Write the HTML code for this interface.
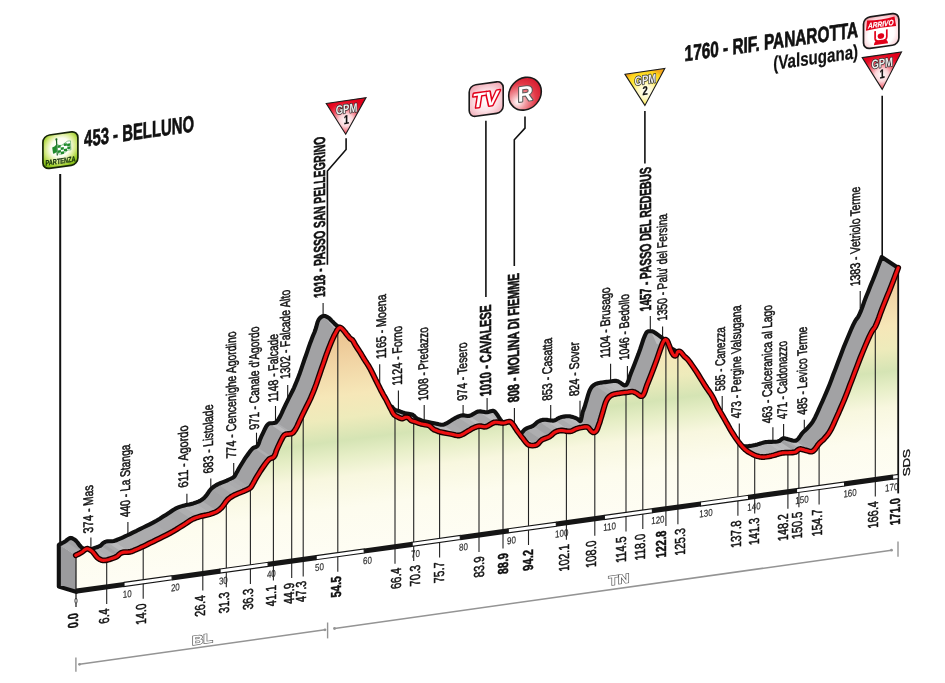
<!DOCTYPE html>
<html lang="it"><head><meta charset="utf-8"><title>Belluno - Rif. Panarotta</title>
<style>html,body{margin:0;padding:0;background:#fff}body{width:945px;height:683px;overflow:hidden}svg{display:block;will-change:transform}text{font-family:"Liberation Sans",sans-serif}</style></head><body>
<svg width="945" height="683" viewBox="0 0 945 683">
<defs>
<linearGradient id="gfill" gradientUnits="userSpaceOnUse" x1="0" y1="371" x2="0" y2="597" gradientTransform="matrix(1,-0.127,0,1,0,0)">
<stop offset="0" stop-color="#eac18d"/>
<stop offset="0.15" stop-color="#f1d4a4"/>
<stop offset="0.3" stop-color="#f6e7b8"/>
<stop offset="0.4" stop-color="#eeebbb"/>
<stop offset="0.5" stop-color="#d5e4b4"/>
<stop offset="0.57" stop-color="#e6eec6"/>
<stop offset="0.66" stop-color="#f8f7df"/>
<stop offset="0.8" stop-color="#fdfcee"/>
<stop offset="1" stop-color="#fefdf4"/>
</linearGradient>
<radialGradient id="ggreen" cx="0.5" cy="0.42" r="0.66"><stop offset="0" stop-color="#ffffff"/><stop offset="0.42" stop-color="#fbfdf0"/><stop offset="0.66" stop-color="#d3e982"/><stop offset="0.86" stop-color="#9ccd27"/><stop offset="1" stop-color="#7ab512"/></radialGradient>
<radialGradient id="gpink" cx="0.5" cy="0.55" r="0.7"><stop offset="0" stop-color="#ffffff"/><stop offset="0.45" stop-color="#fce4e8"/><stop offset="1" stop-color="#ef9aa8"/></radialGradient>
<radialGradient id="gredc" cx="0.28" cy="0.72" r="0.85"><stop offset="0" stop-color="#ffffff"/><stop offset="0.3" stop-color="#f29aa1"/><stop offset="0.65" stop-color="#e23a48"/><stop offset="1" stop-color="#d4152a"/></radialGradient>
<radialGradient id="gtri_r" cx="0.5" cy="0.62" r="0.6"><stop offset="0" stop-color="#ffffff"/><stop offset="0.28" stop-color="#fbd5d9"/><stop offset="0.6" stop-color="#ef4a5b"/><stop offset="0.82" stop-color="#e80f27"/><stop offset="1" stop-color="#e2001a"/></radialGradient>
<radialGradient id="gtri_y" cx="0.52" cy="0.62" r="0.62"><stop offset="0" stop-color="#ffffff"/><stop offset="0.3" stop-color="#fff9c8"/><stop offset="0.62" stop-color="#ffe838"/><stop offset="0.88" stop-color="#fdd31b"/><stop offset="1" stop-color="#f4a81c"/></radialGradient>
<radialGradient id="garr" cx="0.5" cy="0.6" r="0.72"><stop offset="0" stop-color="#ffffff"/><stop offset="0.5" stop-color="#ffffff"/><stop offset="0.75" stop-color="#fbd3d8"/><stop offset="1" stop-color="#ee8f9b"/></radialGradient>
</defs>
<rect width="945" height="683" fill="#fff"/>
<g stroke="#1a1a1a" stroke-width="1.1" fill="none">
<path d="M90.9 537.4V549"/>
<path d="M127.9 522V536"/>
<path d="M186.9 493.7V506"/>
<path d="M210.8 478.4V491"/>
<path d="M233.7 463V476"/>
<path d="M256.5 432.7V445"/>
<path d="M275.5 406V421"/>
<path d="M287.7 385V399"/>
<path d="M323.1 303V318"/>
<path d="M379.7 364.2V385"/>
<path d="M398.4 390.6V412"/>
<path d="M424.2 405V422"/>
<path d="M463.1 405V419"/>
<path d="M487.1 397.9V414"/>
<path d="M514.4 408V424"/>
<path d="M550.7 405V422"/>
<path d="M580 400.8V421"/>
<path d="M610.6 363.7V384"/>
<path d="M627.4 366V386"/>
<path d="M650.3 316V334"/>
<path d="M662.6 326.5V341"/>
<path d="M722.2 396V410"/>
<path d="M739.3 423.4V444"/>
<path d="M772.9 427.3V444"/>
<path d="M783.6 424V442"/>
<path d="M804.3 419.7V437"/>
<path d="M860.2 291V308"/>
</g>
<g stroke="#111" stroke-width="1.6" fill="none">
<path d="M60.2 173.9V548" stroke-width="2"/>
<path d="M346.1 138.3V149.5L327.4 171.1V264.7"/>
<path d="M485.9 120.8V297"/>
<path d="M525 116.4V128.1L514.3 139.8V266"/>
<path d="M644.9 111V163.5"/>
<path d="M882.2 95.8V260"/>
</g>
<polygon points="59.3,544.5 60,544.1 61.8,543.3 63.8,542.2 65.5,541.2 66.3,540.6 67.1,539.9 67.8,539.3 68.5,538.8 69.1,538.5 69.7,538.2 70.3,538 70.9,537.9 71.5,538 72.2,538.3 72.9,538.6 73.5,539 74.2,539.4 74.9,539.9 75.7,540.5 76.4,541.2 77.5,542.5 78.6,544 79.7,545.5 80.8,546.7 81.5,547.3 82.1,547.8 82.8,548.2 83.5,548.6 84.2,548.9 84.9,549.2 85.6,549.4 86.3,549.5 87.2,549.6 88.1,549.5 89,549.5 90,549.3 91.3,549 92.7,548.6 94.1,548.1 95.5,547.6 96.8,547.2 98.2,546.7 99.5,546.2 100.6,545.6 101.3,545 101.8,544.4 102.4,543.8 103,543.2 103.7,542.7 104.4,542.3 105.2,541.9 106.1,541.6 107.8,541.3 109.8,541.3 111.9,541.2 113.8,541 115.3,540.6 116.7,540 118.1,539.4 119.5,538.8 121.2,538.1 123,537.3 124.9,536.4 126.9,535.5 129.9,534.1 133.2,532.4 136.6,530.8 139.9,529.1 143.2,527.5 146.5,525.9 149.7,524.3 153,522.6 156.4,520.7 159.8,518.7 163.1,516.6 166.2,514.7 168.7,513.1 171,511.5 173.2,510 175.4,508.7 177.1,507.9 178.8,507.2 180.4,506.6 182,506.1 183.3,505.7 184.6,505.4 185.9,505.1 187.3,504.8 189.2,504.4 191.2,503.9 193.3,503.4 195.2,502.8 196.8,502.2 198.3,501.6 199.7,501 201.1,500.2 202.3,499.3 203.5,498.4 204.6,497.4 205.7,496.2 207,494.5 208.3,492.6 209.6,490.7 211,489 212.5,487.7 214.1,486.5 215.8,485.4 217.6,484.4 219.5,483.5 221.6,482.6 223.7,481.8 225.5,481.1 226.8,480.6 227.9,480 229,479.5 230.1,479 231.1,478.5 232.2,478 233.2,477.4 234,476.8 234.6,476.1 235.1,475.3 235.6,474.5 236.1,473.6 236.8,472.3 237.6,470.9 238.4,469.3 239.3,467.7 240.8,465.2 242.5,462.5 244.2,459.7 245.9,457.2 247.3,455.2 248.7,453.2 250,451.5 251.2,450 251.8,449.3 252.3,448.7 252.9,448.2 253.5,447.8 254.2,447.5 255,447.3 255.8,447 256.5,446.7 257,446.3 257.4,445.9 257.7,445.4 258.1,444.8 258.7,443.6 259.2,442.1 259.7,440.4 260.4,438.7 261.6,435.9 263.1,432.8 264.5,429.8 265.7,427.5 266.1,426.7 266.5,426.1 266.9,425.5 267.3,425 267.7,424.6 268,424.2 268.5,423.9 269,423.6 270.2,423.3 271.6,423.2 273.1,423.1 274.3,422.9 274.9,422.8 275.3,422.6 275.8,422.5 276.2,422.2 276.6,421.8 277,421.3 277.4,420.8 277.8,420.2 278.4,419.4 279,418.4 279.6,417.4 280.2,416.3 281,414.7 281.8,413 282.6,411.1 283.5,409.2 284.7,406.7 286,403.9 287.4,401.1 288.7,398.4 290,395.8 291.4,393.1 292.7,390.5 294,387.8 295.2,384.9 296.4,382 297.6,379.1 298.7,376.1 299.8,373.2 300.8,370.3 301.8,367.3 302.8,364.4 303.8,361.5 304.8,358.5 305.9,355.5 306.9,352.6 307.9,349.7 308.9,346.7 309.9,343.8 311,340.9 312.1,338.1 313.2,335.3 314.4,332.5 315.4,329.8 316.2,327.2 316.9,324.5 317.6,322 318.5,320 319.1,319 319.8,318.2 320.5,317.5 321.3,316.9 322,316.5 322.7,316.2 323.5,316 324.3,315.9 325.3,316.1 326.3,316.5 327.4,317.1 328.4,317.7 329.5,318.5 330.5,319.5 331.5,320.6 332.5,321.6 333.5,322.5 334.4,323.5 335.3,324.4 336.3,325.2 337.2,325.8 338.2,326.4 339.2,326.9 340.1,327.5 340.9,328 341.6,328.6 342.4,329.1 343.1,329.8 344.1,331 345.2,332.3 346.2,333.7 347.2,335 348,335.9 348.7,336.8 349.4,337.7 350.1,338.4 350.7,338.9 351.3,339.2 351.9,339.6 352.5,340.1 353.4,341.3 354.5,342.7 355.2,344.1 355.3,345 353.2,344.7 349.4,343.1 345.5,341.5 343.4,341.2 343.6,342.4 344.9,344.5 346.6,346.8 348.1,349 349.3,350.9 350.5,352.7 351.7,354.5 352.8,356.4 353.9,358.3 354.9,360.3 355.9,362.3 356.9,364.3 357.9,366.4 358.9,368.5 360,370.6 361,372.7 362.2,375 363.3,377.3 364.5,379.7 365.7,381.9 366.7,383.8 367.8,385.5 368.8,387.3 369.8,389.2 371,391.5 372.2,393.9 373.4,396.3 374.5,398.4 375.3,399.9 375.9,401.3 376.7,402.6 377.5,403.7 378.3,404.4 379.1,405 380.1,405.5 381,406 382.1,406.6 383.4,407.2 384.6,407.6 385.7,407.8 386.5,407.6 387.2,407.3 387.9,406.9 388.6,406.6 389.3,406.5 390.1,406.4 390.8,406.4 391.5,406.6 392.3,407.1 393,408 393.7,408.8 394.5,409.5 395.3,409.9 396.1,410.2 397,410.4 398,410.7 399.4,411.2 401,411.8 402.7,412.5 404.4,413 406.4,413.4 408.6,413.8 410.8,414.2 412.6,414.8 413.8,415.6 414.8,416.5 415.7,417.5 416.7,418.3 417.7,418.9 418.8,419.3 419.8,419.7 420.8,420.1 421.4,420.4 422,420.6 422.6,420.8 423.3,421 425.5,421.5 428.3,422.1 431.4,422.7 434.2,423.2 436.5,423.7 438.8,424.3 440.9,424.7 443,424.7 444.7,424.2 446.4,423.4 448,422.4 449.6,421.4 451.5,420.3 453.5,419.1 455.4,417.9 457.3,417 458.7,416.4 460,415.9 461.4,415.5 462.8,415.3 464.4,415.4 466,415.7 467.7,416 469.4,415.9 471.5,415.1 473.7,413.7 475.9,412.4 478.1,411.5 480.3,411.4 482.6,411.7 484.8,412.1 486.9,412.2 488.7,411.9 490.5,411.3 492.1,410.9 493.5,410.9 494.4,411.3 495.1,412 495.8,412.8 496.5,413.7 497.4,414.9 498.2,416.2 499.1,417.7 500.1,419.2 501.6,421.3 503.3,423.6 505,425.9 506.7,428 508,429.8 509.3,431.5 510.7,433 512.2,434.1 514,434.6 516,434.8 518.1,434.6 519.9,434.1 521.4,433.2 522.6,431.8 523.9,430.3 525.3,429.1 527.1,428.2 529.1,427.4 531.2,426.7 533,425.8 534.5,424.7 535.8,423.5 537.1,422.3 538.5,421.4 539.8,420.8 541.2,420.3 542.6,419.9 544,419.7 545.6,419.7 547.4,419.9 549,420.2 550.6,420.4 551.7,420.5 552.6,420.6 553.6,420.6 554.6,420.4 555.8,419.9 557,419.1 558.3,418.3 559.7,417.6 561.6,417 563.8,416.6 565.9,416.3 568,416.2 569.7,416.3 571.4,416.7 573,417.1 574.5,417.6 575.6,418 576.6,418.5 577.5,419.1 578.3,419.6 578.9,420.1 579.4,420.6 579.9,421.1 580.3,421.2 580.7,420.9 580.9,420.2 581.2,419.3 581.4,418.4 581.7,417.1 582,415.6 582.3,414 582.6,412.5 583,411.2 583.5,409.9 584,408.6 584.5,407.2 585,405.7 585.4,404.2 585.9,402.5 586.4,400.8 587.2,398 588.1,394.9 589.1,391.9 590.2,389.4 591,388 591.9,386.8 592.9,385.8 594,384.9 595.2,384.2 596.5,383.7 597.8,383.3 599.1,383 600.2,382.8 601.3,382.6 602.3,382.5 603.5,382.3 605,382.1 606.6,381.9 608.2,381.7 609.8,381.5 611.5,381.3 613.2,381 614.9,380.8 616.4,380.9 617.5,381.2 618.6,381.7 619.5,382.2 620.5,382.8 621.4,383.5 622.4,384.2 623.3,384.9 624.1,385.3 624.7,385.4 625.2,385.3 625.8,385.2 626.3,384.8 627.4,383.1 628.5,380.4 629.5,377.1 630.7,373.8 632.5,369.3 634.5,364.3 636.5,359.1 638.4,354.1 640.2,349 641.9,343.8 643.5,339 645,335.4 645.6,334.2 646.1,333.2 646.6,332.4 647.2,331.8 647.8,331.5 648.5,331.3 649.3,331.2 650,331.2 650.7,331.2 651.4,331.2 652.1,331.3 653,331.6 655.4,333 658.4,335.1 661.4,337.3 663.5,338.8 664,339.1 664.4,339.3 664.8,339.4 665.2,339.6 665.7,339.8 666.1,340 666.6,340.3 667,340.6 667.3,341 667.6,341.6 667.8,342.2 668.1,342.9 669.2,345.6 670.6,349.3 672.1,352.8 673.5,355 674.1,355.4 674.6,355.7 675.2,355.8 675.7,355.7 676.3,355 676.8,353.8 677.3,352.5 677.9,351.7 678.4,351.5 678.9,351.4 679.4,351.4 680,351.6 681.2,352.5 682.6,353.9 683.6,355.3 684,356 681.9,354.9 677.7,352.1 673.4,349.4 671.1,348.5 671.8,350.1 674.2,353.3 677.2,357.2 679.9,360.8 682.1,364.3 684.3,367.9 686.5,371.5 688.6,374.9 690.4,377.6 692.3,380.2 694.1,382.8 695.7,385.4 697.1,388 698.3,390.6 699.6,393.3 700.9,396 702.6,399 704.4,402.1 706.2,405.2 708,408.3 709.7,411.4 711.5,414.5 713.2,417.6 715,420.6 716.7,423.3 718.4,426 720.2,428.6 722,431.1 723.7,433.3 725.4,435.3 727.2,437.2 729.1,439 731.2,440.6 733.5,442 735.8,443.3 737.9,444.3 739.4,444.9 740.8,445.4 742.2,445.7 743.5,446 744.6,446.2 745.7,446.2 746.8,446.3 748,446.2 750.2,445.9 752.6,445.5 755.1,445 757.5,444.4 759.6,443.8 761.7,443.1 763.8,442.5 765.7,442.1 767.2,442 768.7,441.9 770.1,441.9 771.6,441.9 773.5,441.8 775.6,441.7 777.5,441.5 779.1,441.1 779.8,440.7 780.4,440.2 780.9,439.6 781.5,439.2 782,438.9 782.6,438.6 783.1,438.3 783.7,438.2 784.4,438.2 785.1,438.4 785.8,438.6 786.5,438.8 787.2,439 787.9,439.2 788.6,439.4 789.4,439.6 790.8,440 792.4,440.5 794,440.8 795.4,440.8 796.2,440.5 796.8,440.1 797.4,439.5 798,439 798.5,438.5 798.9,437.9 799.3,437.3 799.8,436.6 800.5,435.6 801.3,434.4 802.2,433.3 803.1,432.2 804.1,431.3 805.1,430.4 806.1,429.5 807.2,428.5 808.6,426.9 810.1,425.2 811.6,423.3 813.1,421.1 815,417.7 816.9,413.7 818.7,409.6 820.5,405.5 822.4,401.4 824.2,397.2 826.1,392.9 827.9,388.6 829.8,383.9 831.6,379.2 833.4,374.3 835.4,369.2 838,362.3 840.8,354.9 843.6,347.6 846.4,340.7 848.7,335.2 851,329.8 853.2,324.9 855.2,321 856.2,319.4 857.1,318.2 858,317.1 858.9,315.5 860.6,311.7 862.4,307 864.2,301.8 866.1,296.8 868.3,291.4 870.5,285.8 872.8,280.3 874.9,274.9 877,269.5 879.2,263.6 881,258.9 881.7,257 898.2,267.8 897.5,269.7 895.7,274.4 893.5,280.3 891.4,285.7 889.3,291.1 887,296.6 884.8,302.2 882.6,307.6 880.7,312.6 878.9,317.8 877.1,322.5 875.4,326.3 874.5,327.9 873.6,329 872.7,330.2 871.7,331.8 869.7,335.7 867.5,340.6 865.2,346 862.9,351.5 860.1,358.4 857.3,365.7 854.5,373.1 851.9,380 849.9,385.1 848.1,390 846.3,394.7 844.4,399.4 842.6,403.7 840.7,408 838.9,412.2 837,416.3 835.2,420.4 833.4,424.5 831.5,428.5 829.6,431.9 828.1,434.1 826.6,436 825.1,437.7 823.7,439.3 822.6,440.3 821.6,441.2 820.6,442.1 819.6,443 818.7,444.1 817.8,445.2 817,446.4 816.3,447.4 815.8,448.1 815.4,448.7 815,449.3 814.5,449.8 813.9,450.3 813.3,450.9 812.7,451.3 811.9,451.6 810.5,451.6 808.9,451.3 807.3,450.8 805.9,450.4 805.1,450.2 804.4,450 803.7,449.8 803,449.6 802.3,449.4 801.6,449.2 800.9,449 800.2,449 799.6,449.1 799.1,449.4 798.5,449.7 798,450 797.4,450.4 796.9,451 796.3,451.5 795.6,451.9 794,452.3 792.1,452.5 790,452.6 788.1,452.7 786.6,452.7 785.2,452.7 783.7,452.8 782.2,452.9 780.3,453.3 778.2,453.9 776.1,454.6 774,455.2 771.6,455.8 769.1,456.3 766.7,456.7 764.5,457 763.3,457.1 762.2,457 761.1,457 760,456.8 758.7,456.5 757.3,456.2 755.9,455.7 754.4,455.1 752.3,454.1 750,452.8 747.7,451.4 745.6,449.8 743.7,448 741.9,446.1 740.2,444.1 738.5,441.9 736.7,439.4 734.9,436.8 733.2,434.1 731.5,431.4 729.7,428.4 728,425.3 726.2,422.2 724.5,419.1 722.7,416 720.9,412.9 719.1,409.8 717.4,406.8 716.1,404.1 714.8,401.4 713.6,398.8 712.2,396.2 710.6,393.6 708.8,391 706.9,388.4 705.1,385.7 703,382.3 700.8,378.7 698.6,375.1 696.4,371.6 694.2,368.3 691.8,364.9 689.6,361.8 687.6,359.3 686.6,358.3 685.7,357.5 684.9,356.8 684,356 683,354.8 682,353.5 681,352.3 680,351.6 679.4,351.4 678.9,351.4 678.4,351.5 677.9,351.7 677.3,352.5 676.8,353.8 676.3,355 675.7,355.7 675.2,355.8 674.6,355.7 674.1,355.4 673.5,355 672.1,352.8 670.6,349.3 669.2,345.6 668.1,342.9 667.8,342.2 667.6,341.6 667.3,341 667,340.6 666.6,340.2 666.1,339.9 665.6,339.6 665.2,339.6 664.8,339.8 664.4,340.2 664,340.8 663.6,341.4 663.1,342.3 662.6,343.4 662.1,344.7 661.5,346.2 660.1,350 658.5,354.8 656.7,359.9 654.9,364.9 653,369.9 651,375.1 649,380.1 647.2,384.6 646,387.9 645,391.2 643.9,393.9 642.8,395.6 642.3,396 641.7,396.1 641.2,396.2 640.6,396.1 639.8,395.7 638.9,395 637.9,394.3 637,393.6 636,393 635.1,392.5 634,392 632.9,391.7 631.4,391.6 629.7,391.8 628,392.1 626.3,392.3 624.7,392.5 623.1,392.7 621.5,392.9 620,393.1 618.8,393.3 617.8,393.4 616.7,393.6 615.6,393.8 614.3,394.1 613,394.5 611.7,395 610.5,395.7 609.4,396.6 608.4,397.6 607.5,398.8 606.7,400.2 605.6,402.7 604.6,405.7 603.7,408.8 602.9,411.6 602.4,413.3 601.9,414.9 601.5,416.4 601,418 600.5,419.6 600.1,421.1 599.6,422.7 599,424.3 598.3,426.2 597.6,428.2 596.8,430 595.9,431.3 595.3,431.8 594.6,432.2 593.9,432.4 593.3,432.4 592.7,432.2 592,431.7 591.4,431.2 590.8,430.6 590.1,429.7 589.3,428.7 588.6,427.8 587.6,427.1 586.2,426.8 584.6,426.9 582.9,427.2 581.3,427.5 580,427.7 578.7,428 577.4,428.4 576.2,428.8 574.9,429.4 573.6,430.1 572.3,430.8 571.1,431.2 570.1,431.3 569.1,431.3 568.2,431.3 567.1,431.2 565.5,431 563.9,430.7 562.1,430.5 560.5,430.5 559.1,430.7 557.7,431.1 556.3,431.6 555,432.2 553.6,433.1 552.3,434.3 551,435.5 549.5,436.6 547.7,437.5 545.6,438.2 543.6,439 541.8,439.9 540.4,441.1 539.1,442.6 537.9,444 536.4,444.9 534.6,445.4 532.5,445.6 530.5,445.4 528.7,444.9 527.2,443.8 525.8,442.3 524.5,440.6 523.2,438.8 521.5,436.7 519.8,434.4 518.1,432.1 516.6,430 515.6,428.5 514.7,427 513.9,425.7 513,424.5 512.3,423.6 511.6,422.8 510.9,422.1 510,421.7 508.6,421.7 507,422.1 505.2,422.7 503.4,423 501.3,422.9 499.1,422.5 496.8,422.2 494.6,422.3 492.4,423.2 490.2,424.5 488,425.9 485.9,426.7 484.2,426.8 482.5,426.5 480.9,426.2 479.3,426.1 477.9,426.3 476.5,426.7 475.2,427.2 473.8,427.8 471.9,428.7 470,429.9 468,431.1 466.1,432.2 464.5,433.2 462.9,434.2 461.2,435 459.5,435.5 457.4,435.5 455.3,435.1 453,434.5 450.7,434 447.9,433.5 444.8,432.9 442,432.3 439.8,431.8 439.1,431.6 438.5,431.4 437.9,431.2 437.3,430.9 436.3,430.5 435.3,430.1 434.2,429.7 433.2,429.1 432.2,428.3 431.3,427.3 430.3,426.4 429.1,425.6 427.3,425 425.1,424.6 422.9,424.2 420.9,423.8 419.2,423.3 417.5,422.6 415.9,422 414.5,421.5 413.5,421.2 412.6,421 411.8,420.7 411,420.3 410.2,419.6 409.5,418.8 408.8,417.9 408,417.4 407.3,417.2 406.6,417.2 405.8,417.3 405.1,417.4 404.4,417.7 403.7,418.1 403,418.4 402.2,418.6 401.1,418.4 399.9,418 398.6,417.4 397.5,416.8 396.6,416.3 395.6,415.8 394.8,415.2 394,414.5 393.2,413.4 392.4,412.1 391.8,410.7 391,409.2 389.9,407.1 388.7,404.7 387.5,402.3 386.3,400 385.3,398.1 384.2,396.4 383.2,394.6 382.2,392.7 381,390.5 379.8,388.1 378.7,385.8 377.5,383.5 376.5,381.4 375.4,379.3 374.4,377.2 373.4,375.1 372.4,373.1 371.4,371.1 370.4,369.1 369.3,367.2 368.2,365.3 367,363.5 365.8,361.7 364.6,359.8 363.4,357.9 362.3,355.9 361.1,353.9 359.9,352 358.7,350.2 357.5,348.4 356.4,346.7 355.3,345 354.6,343.7 353.9,342.3 353.2,341.1 352.5,340.1 351.9,339.6 351.3,339.2 350.7,338.9 350.1,338.4 349.4,337.7 348.7,336.8 348,335.9 347.2,335 346.2,333.7 345.2,332.3 344.1,331 343.1,329.8 342.3,329 341.6,328.3 340.8,327.7 340.1,327.5 339.5,327.7 338.9,328.1 338.3,328.7 337.8,329.3 337.2,330.1 336.6,331.1 336.1,332.1 335.5,333.2 334.6,334.8 333.7,336.6 332.8,338.6 331.9,340.6 330.8,343.2 329.7,346 328.6,348.8 327.5,351.7 326.4,354.6 325.4,357.5 324.4,360.5 323.4,363.4 322.4,366.3 321.3,369.3 320.3,372.3 319.3,375.2 318.3,378.1 317.3,381.1 316.3,384 315.2,386.9 314.1,389.9 312.9,392.8 311.7,395.7 310.5,398.6 309.2,401.3 307.9,403.9 306.5,406.6 305.2,409.2 303.9,411.9 302.5,414.7 301.2,417.5 300,420 299.1,421.9 298.3,423.8 297.5,425.5 296.7,427.1 296.1,428.2 295.5,429.2 294.9,430.2 294.3,431 293.9,431.6 293.5,432.1 293.1,432.6 292.7,433 292.3,433.3 291.8,433.4 291.4,433.6 290.8,433.7 289.6,433.9 288.1,434 286.7,434.1 285.5,434.4 285,434.7 284.5,435 284.2,435.4 283.8,435.8 283.4,436.3 283,436.9 282.6,437.5 282.2,438.3 281,440.6 279.6,443.6 278.1,446.7 276.9,449.5 276.2,451.2 275.7,452.9 275.2,454.4 274.6,455.6 274.2,456.2 273.9,456.7 273.5,457.1 273,457.5 272.3,457.8 271.5,458.1 270.7,458.3 270,458.6 269.4,459 268.8,459.5 268.3,460.1 267.7,460.8 266.5,462.3 265.2,464 263.8,466 262.4,468 260.7,470.5 259,473.3 257.3,476 255.8,478.5 254.9,480.1 254.1,481.7 253.3,483.1 252.6,484.4 252.1,485.3 251.6,486.1 251.1,486.9 250.5,487.6 249.7,488.2 248.7,488.8 247.6,489.3 246.6,489.8 245.5,490.3 244.4,490.8 243.3,491.4 242,491.9 240.2,492.6 238.1,493.4 236,494.3 234.1,495.2 232.3,496.2 230.6,497.3 229,498.5 227.5,499.8 226.1,501.5 224.8,503.4 223.5,505.3 222.2,507 221.1,508.2 220,509.2 218.8,510.1 217.6,511 216.2,511.8 214.8,512.4 213.3,513 211.7,513.6 209.8,514.2 207.7,514.7 205.7,515.2 203.8,515.6 202.4,515.9 201.1,516.2 199.8,516.5 198.5,516.9 196.9,517.4 195.3,518 193.6,518.7 191.9,519.5 189.7,520.8 187.5,522.3 185.2,523.9 182.7,525.5 179.6,527.4 176.3,529.5 172.9,531.5 169.5,533.4 166.2,535.1 163,536.7 159.7,538.3 156.4,539.9 153.1,541.6 149.7,543.2 146.4,544.9 143.4,546.3 141.4,547.2 139.5,548.1 137.7,548.9 136,549.6 134.6,550.2 133.2,550.8 131.8,551.4 130.3,551.8 128.4,552 126.3,552.1 124.3,552.1 122.6,552.4 121.7,552.7 120.9,553.1 120.2,553.5 119.5,554 118.9,554.6 118.3,555.2 117.8,555.8 117.1,556.4 116,557 114.7,557.5 113.3,558 112,558.4 110.6,558.9 109.2,559.4 107.8,559.8 106.5,560.1 105.5,560.3 104.6,560.3 103.7,560.4 102.8,560.3 102.1,560.2 101.4,560 100.7,559.7 100,559.4 99.3,559 98.6,558.6 98,558.1 97.3,557.5 96.2,556.3 95.1,554.8 94,553.3 92.9,552 92.2,551.3 91.4,550.7 90.7,550.2 90,549.8 89.4,549.4 88.7,549.1 88,548.8 87.4,548.7 86.8,548.8 86.2,549 85.6,549.3 85,549.6 84.3,550.1 83.6,550.7 82.8,551.4 82,552 80.3,553 78.3,554.1 76.5,554.9 75.8,555.3" fill="#a9a9ab"/>
<clipPath id="bandclip"><polygon points="59.3,544.5 60,544.1 61.8,543.3 63.8,542.2 65.5,541.2 66.3,540.6 67.1,539.9 67.8,539.3 68.5,538.8 69.1,538.5 69.7,538.2 70.3,538 70.9,537.9 71.5,538 72.2,538.3 72.9,538.6 73.5,539 74.2,539.4 74.9,539.9 75.7,540.5 76.4,541.2 77.5,542.5 78.6,544 79.7,545.5 80.8,546.7 81.5,547.3 82.1,547.8 82.8,548.2 83.5,548.6 84.2,548.9 84.9,549.2 85.6,549.4 86.3,549.5 87.2,549.6 88.1,549.5 89,549.5 90,549.3 91.3,549 92.7,548.6 94.1,548.1 95.5,547.6 96.8,547.2 98.2,546.7 99.5,546.2 100.6,545.6 101.3,545 101.8,544.4 102.4,543.8 103,543.2 103.7,542.7 104.4,542.3 105.2,541.9 106.1,541.6 107.8,541.3 109.8,541.3 111.9,541.2 113.8,541 115.3,540.6 116.7,540 118.1,539.4 119.5,538.8 121.2,538.1 123,537.3 124.9,536.4 126.9,535.5 129.9,534.1 133.2,532.4 136.6,530.8 139.9,529.1 143.2,527.5 146.5,525.9 149.7,524.3 153,522.6 156.4,520.7 159.8,518.7 163.1,516.6 166.2,514.7 168.7,513.1 171,511.5 173.2,510 175.4,508.7 177.1,507.9 178.8,507.2 180.4,506.6 182,506.1 183.3,505.7 184.6,505.4 185.9,505.1 187.3,504.8 189.2,504.4 191.2,503.9 193.3,503.4 195.2,502.8 196.8,502.2 198.3,501.6 199.7,501 201.1,500.2 202.3,499.3 203.5,498.4 204.6,497.4 205.7,496.2 207,494.5 208.3,492.6 209.6,490.7 211,489 212.5,487.7 214.1,486.5 215.8,485.4 217.6,484.4 219.5,483.5 221.6,482.6 223.7,481.8 225.5,481.1 226.8,480.6 227.9,480 229,479.5 230.1,479 231.1,478.5 232.2,478 233.2,477.4 234,476.8 234.6,476.1 235.1,475.3 235.6,474.5 236.1,473.6 236.8,472.3 237.6,470.9 238.4,469.3 239.3,467.7 240.8,465.2 242.5,462.5 244.2,459.7 245.9,457.2 247.3,455.2 248.7,453.2 250,451.5 251.2,450 251.8,449.3 252.3,448.7 252.9,448.2 253.5,447.8 254.2,447.5 255,447.3 255.8,447 256.5,446.7 257,446.3 257.4,445.9 257.7,445.4 258.1,444.8 258.7,443.6 259.2,442.1 259.7,440.4 260.4,438.7 261.6,435.9 263.1,432.8 264.5,429.8 265.7,427.5 266.1,426.7 266.5,426.1 266.9,425.5 267.3,425 267.7,424.6 268,424.2 268.5,423.9 269,423.6 270.2,423.3 271.6,423.2 273.1,423.1 274.3,422.9 274.9,422.8 275.3,422.6 275.8,422.5 276.2,422.2 276.6,421.8 277,421.3 277.4,420.8 277.8,420.2 278.4,419.4 279,418.4 279.6,417.4 280.2,416.3 281,414.7 281.8,413 282.6,411.1 283.5,409.2 284.7,406.7 286,403.9 287.4,401.1 288.7,398.4 290,395.8 291.4,393.1 292.7,390.5 294,387.8 295.2,384.9 296.4,382 297.6,379.1 298.7,376.1 299.8,373.2 300.8,370.3 301.8,367.3 302.8,364.4 303.8,361.5 304.8,358.5 305.9,355.5 306.9,352.6 307.9,349.7 308.9,346.7 309.9,343.8 311,340.9 312.1,338.1 313.2,335.3 314.4,332.5 315.4,329.8 316.2,327.2 316.9,324.5 317.6,322 318.5,320 319.1,319 319.8,318.2 320.5,317.5 321.3,316.9 322,316.5 322.7,316.2 323.5,316 324.3,315.9 325.3,316.1 326.3,316.5 327.4,317.1 328.4,317.7 329.5,318.5 330.5,319.5 331.5,320.6 332.5,321.6 333.5,322.5 334.4,323.5 335.3,324.4 336.3,325.2 337.2,325.8 338.2,326.4 339.2,326.9 340.1,327.5 340.9,328 341.6,328.6 342.4,329.1 343.1,329.8 344.1,331 345.2,332.3 346.2,333.7 347.2,335 348,335.9 348.7,336.8 349.4,337.7 350.1,338.4 350.7,338.9 351.3,339.2 351.9,339.6 352.5,340.1 353.4,341.3 354.5,342.7 355.2,344.1 355.3,345 353.2,344.7 349.4,343.1 345.5,341.5 343.4,341.2 343.6,342.4 344.9,344.5 346.6,346.8 348.1,349 349.3,350.9 350.5,352.7 351.7,354.5 352.8,356.4 353.9,358.3 354.9,360.3 355.9,362.3 356.9,364.3 357.9,366.4 358.9,368.5 360,370.6 361,372.7 362.2,375 363.3,377.3 364.5,379.7 365.7,381.9 366.7,383.8 367.8,385.5 368.8,387.3 369.8,389.2 371,391.5 372.2,393.9 373.4,396.3 374.5,398.4 375.3,399.9 375.9,401.3 376.7,402.6 377.5,403.7 378.3,404.4 379.1,405 380.1,405.5 381,406 382.1,406.6 383.4,407.2 384.6,407.6 385.7,407.8 386.5,407.6 387.2,407.3 387.9,406.9 388.6,406.6 389.3,406.5 390.1,406.4 390.8,406.4 391.5,406.6 392.3,407.1 393,408 393.7,408.8 394.5,409.5 395.3,409.9 396.1,410.2 397,410.4 398,410.7 399.4,411.2 401,411.8 402.7,412.5 404.4,413 406.4,413.4 408.6,413.8 410.8,414.2 412.6,414.8 413.8,415.6 414.8,416.5 415.7,417.5 416.7,418.3 417.7,418.9 418.8,419.3 419.8,419.7 420.8,420.1 421.4,420.4 422,420.6 422.6,420.8 423.3,421 425.5,421.5 428.3,422.1 431.4,422.7 434.2,423.2 436.5,423.7 438.8,424.3 440.9,424.7 443,424.7 444.7,424.2 446.4,423.4 448,422.4 449.6,421.4 451.5,420.3 453.5,419.1 455.4,417.9 457.3,417 458.7,416.4 460,415.9 461.4,415.5 462.8,415.3 464.4,415.4 466,415.7 467.7,416 469.4,415.9 471.5,415.1 473.7,413.7 475.9,412.4 478.1,411.5 480.3,411.4 482.6,411.7 484.8,412.1 486.9,412.2 488.7,411.9 490.5,411.3 492.1,410.9 493.5,410.9 494.4,411.3 495.1,412 495.8,412.8 496.5,413.7 497.4,414.9 498.2,416.2 499.1,417.7 500.1,419.2 501.6,421.3 503.3,423.6 505,425.9 506.7,428 508,429.8 509.3,431.5 510.7,433 512.2,434.1 514,434.6 516,434.8 518.1,434.6 519.9,434.1 521.4,433.2 522.6,431.8 523.9,430.3 525.3,429.1 527.1,428.2 529.1,427.4 531.2,426.7 533,425.8 534.5,424.7 535.8,423.5 537.1,422.3 538.5,421.4 539.8,420.8 541.2,420.3 542.6,419.9 544,419.7 545.6,419.7 547.4,419.9 549,420.2 550.6,420.4 551.7,420.5 552.6,420.6 553.6,420.6 554.6,420.4 555.8,419.9 557,419.1 558.3,418.3 559.7,417.6 561.6,417 563.8,416.6 565.9,416.3 568,416.2 569.7,416.3 571.4,416.7 573,417.1 574.5,417.6 575.6,418 576.6,418.5 577.5,419.1 578.3,419.6 578.9,420.1 579.4,420.6 579.9,421.1 580.3,421.2 580.7,420.9 580.9,420.2 581.2,419.3 581.4,418.4 581.7,417.1 582,415.6 582.3,414 582.6,412.5 583,411.2 583.5,409.9 584,408.6 584.5,407.2 585,405.7 585.4,404.2 585.9,402.5 586.4,400.8 587.2,398 588.1,394.9 589.1,391.9 590.2,389.4 591,388 591.9,386.8 592.9,385.8 594,384.9 595.2,384.2 596.5,383.7 597.8,383.3 599.1,383 600.2,382.8 601.3,382.6 602.3,382.5 603.5,382.3 605,382.1 606.6,381.9 608.2,381.7 609.8,381.5 611.5,381.3 613.2,381 614.9,380.8 616.4,380.9 617.5,381.2 618.6,381.7 619.5,382.2 620.5,382.8 621.4,383.5 622.4,384.2 623.3,384.9 624.1,385.3 624.7,385.4 625.2,385.3 625.8,385.2 626.3,384.8 627.4,383.1 628.5,380.4 629.5,377.1 630.7,373.8 632.5,369.3 634.5,364.3 636.5,359.1 638.4,354.1 640.2,349 641.9,343.8 643.5,339 645,335.4 645.6,334.2 646.1,333.2 646.6,332.4 647.2,331.8 647.8,331.5 648.5,331.3 649.3,331.2 650,331.2 650.7,331.2 651.4,331.2 652.1,331.3 653,331.6 655.4,333 658.4,335.1 661.4,337.3 663.5,338.8 664,339.1 664.4,339.3 664.8,339.4 665.2,339.6 665.7,339.8 666.1,340 666.6,340.3 667,340.6 667.3,341 667.6,341.6 667.8,342.2 668.1,342.9 669.2,345.6 670.6,349.3 672.1,352.8 673.5,355 674.1,355.4 674.6,355.7 675.2,355.8 675.7,355.7 676.3,355 676.8,353.8 677.3,352.5 677.9,351.7 678.4,351.5 678.9,351.4 679.4,351.4 680,351.6 681.2,352.5 682.6,353.9 683.6,355.3 684,356 681.9,354.9 677.7,352.1 673.4,349.4 671.1,348.5 671.8,350.1 674.2,353.3 677.2,357.2 679.9,360.8 682.1,364.3 684.3,367.9 686.5,371.5 688.6,374.9 690.4,377.6 692.3,380.2 694.1,382.8 695.7,385.4 697.1,388 698.3,390.6 699.6,393.3 700.9,396 702.6,399 704.4,402.1 706.2,405.2 708,408.3 709.7,411.4 711.5,414.5 713.2,417.6 715,420.6 716.7,423.3 718.4,426 720.2,428.6 722,431.1 723.7,433.3 725.4,435.3 727.2,437.2 729.1,439 731.2,440.6 733.5,442 735.8,443.3 737.9,444.3 739.4,444.9 740.8,445.4 742.2,445.7 743.5,446 744.6,446.2 745.7,446.2 746.8,446.3 748,446.2 750.2,445.9 752.6,445.5 755.1,445 757.5,444.4 759.6,443.8 761.7,443.1 763.8,442.5 765.7,442.1 767.2,442 768.7,441.9 770.1,441.9 771.6,441.9 773.5,441.8 775.6,441.7 777.5,441.5 779.1,441.1 779.8,440.7 780.4,440.2 780.9,439.6 781.5,439.2 782,438.9 782.6,438.6 783.1,438.3 783.7,438.2 784.4,438.2 785.1,438.4 785.8,438.6 786.5,438.8 787.2,439 787.9,439.2 788.6,439.4 789.4,439.6 790.8,440 792.4,440.5 794,440.8 795.4,440.8 796.2,440.5 796.8,440.1 797.4,439.5 798,439 798.5,438.5 798.9,437.9 799.3,437.3 799.8,436.6 800.5,435.6 801.3,434.4 802.2,433.3 803.1,432.2 804.1,431.3 805.1,430.4 806.1,429.5 807.2,428.5 808.6,426.9 810.1,425.2 811.6,423.3 813.1,421.1 815,417.7 816.9,413.7 818.7,409.6 820.5,405.5 822.4,401.4 824.2,397.2 826.1,392.9 827.9,388.6 829.8,383.9 831.6,379.2 833.4,374.3 835.4,369.2 838,362.3 840.8,354.9 843.6,347.6 846.4,340.7 848.7,335.2 851,329.8 853.2,324.9 855.2,321 856.2,319.4 857.1,318.2 858,317.1 858.9,315.5 860.6,311.7 862.4,307 864.2,301.8 866.1,296.8 868.3,291.4 870.5,285.8 872.8,280.3 874.9,274.9 877,269.5 879.2,263.6 881,258.9 881.7,257 898.2,267.8 897.5,269.7 895.7,274.4 893.5,280.3 891.4,285.7 889.3,291.1 887,296.6 884.8,302.2 882.6,307.6 880.7,312.6 878.9,317.8 877.1,322.5 875.4,326.3 874.5,327.9 873.6,329 872.7,330.2 871.7,331.8 869.7,335.7 867.5,340.6 865.2,346 862.9,351.5 860.1,358.4 857.3,365.7 854.5,373.1 851.9,380 849.9,385.1 848.1,390 846.3,394.7 844.4,399.4 842.6,403.7 840.7,408 838.9,412.2 837,416.3 835.2,420.4 833.4,424.5 831.5,428.5 829.6,431.9 828.1,434.1 826.6,436 825.1,437.7 823.7,439.3 822.6,440.3 821.6,441.2 820.6,442.1 819.6,443 818.7,444.1 817.8,445.2 817,446.4 816.3,447.4 815.8,448.1 815.4,448.7 815,449.3 814.5,449.8 813.9,450.3 813.3,450.9 812.7,451.3 811.9,451.6 810.5,451.6 808.9,451.3 807.3,450.8 805.9,450.4 805.1,450.2 804.4,450 803.7,449.8 803,449.6 802.3,449.4 801.6,449.2 800.9,449 800.2,449 799.6,449.1 799.1,449.4 798.5,449.7 798,450 797.4,450.4 796.9,451 796.3,451.5 795.6,451.9 794,452.3 792.1,452.5 790,452.6 788.1,452.7 786.6,452.7 785.2,452.7 783.7,452.8 782.2,452.9 780.3,453.3 778.2,453.9 776.1,454.6 774,455.2 771.6,455.8 769.1,456.3 766.7,456.7 764.5,457 763.3,457.1 762.2,457 761.1,457 760,456.8 758.7,456.5 757.3,456.2 755.9,455.7 754.4,455.1 752.3,454.1 750,452.8 747.7,451.4 745.6,449.8 743.7,448 741.9,446.1 740.2,444.1 738.5,441.9 736.7,439.4 734.9,436.8 733.2,434.1 731.5,431.4 729.7,428.4 728,425.3 726.2,422.2 724.5,419.1 722.7,416 720.9,412.9 719.1,409.8 717.4,406.8 716.1,404.1 714.8,401.4 713.6,398.8 712.2,396.2 710.6,393.6 708.8,391 706.9,388.4 705.1,385.7 703,382.3 700.8,378.7 698.6,375.1 696.4,371.6 694.2,368.3 691.8,364.9 689.6,361.8 687.6,359.3 686.6,358.3 685.7,357.5 684.9,356.8 684,356 683,354.8 682,353.5 681,352.3 680,351.6 679.4,351.4 678.9,351.4 678.4,351.5 677.9,351.7 677.3,352.5 676.8,353.8 676.3,355 675.7,355.7 675.2,355.8 674.6,355.7 674.1,355.4 673.5,355 672.1,352.8 670.6,349.3 669.2,345.6 668.1,342.9 667.8,342.2 667.6,341.6 667.3,341 667,340.6 666.6,340.2 666.1,339.9 665.6,339.6 665.2,339.6 664.8,339.8 664.4,340.2 664,340.8 663.6,341.4 663.1,342.3 662.6,343.4 662.1,344.7 661.5,346.2 660.1,350 658.5,354.8 656.7,359.9 654.9,364.9 653,369.9 651,375.1 649,380.1 647.2,384.6 646,387.9 645,391.2 643.9,393.9 642.8,395.6 642.3,396 641.7,396.1 641.2,396.2 640.6,396.1 639.8,395.7 638.9,395 637.9,394.3 637,393.6 636,393 635.1,392.5 634,392 632.9,391.7 631.4,391.6 629.7,391.8 628,392.1 626.3,392.3 624.7,392.5 623.1,392.7 621.5,392.9 620,393.1 618.8,393.3 617.8,393.4 616.7,393.6 615.6,393.8 614.3,394.1 613,394.5 611.7,395 610.5,395.7 609.4,396.6 608.4,397.6 607.5,398.8 606.7,400.2 605.6,402.7 604.6,405.7 603.7,408.8 602.9,411.6 602.4,413.3 601.9,414.9 601.5,416.4 601,418 600.5,419.6 600.1,421.1 599.6,422.7 599,424.3 598.3,426.2 597.6,428.2 596.8,430 595.9,431.3 595.3,431.8 594.6,432.2 593.9,432.4 593.3,432.4 592.7,432.2 592,431.7 591.4,431.2 590.8,430.6 590.1,429.7 589.3,428.7 588.6,427.8 587.6,427.1 586.2,426.8 584.6,426.9 582.9,427.2 581.3,427.5 580,427.7 578.7,428 577.4,428.4 576.2,428.8 574.9,429.4 573.6,430.1 572.3,430.8 571.1,431.2 570.1,431.3 569.1,431.3 568.2,431.3 567.1,431.2 565.5,431 563.9,430.7 562.1,430.5 560.5,430.5 559.1,430.7 557.7,431.1 556.3,431.6 555,432.2 553.6,433.1 552.3,434.3 551,435.5 549.5,436.6 547.7,437.5 545.6,438.2 543.6,439 541.8,439.9 540.4,441.1 539.1,442.6 537.9,444 536.4,444.9 534.6,445.4 532.5,445.6 530.5,445.4 528.7,444.9 527.2,443.8 525.8,442.3 524.5,440.6 523.2,438.8 521.5,436.7 519.8,434.4 518.1,432.1 516.6,430 515.6,428.5 514.7,427 513.9,425.7 513,424.5 512.3,423.6 511.6,422.8 510.9,422.1 510,421.7 508.6,421.7 507,422.1 505.2,422.7 503.4,423 501.3,422.9 499.1,422.5 496.8,422.2 494.6,422.3 492.4,423.2 490.2,424.5 488,425.9 485.9,426.7 484.2,426.8 482.5,426.5 480.9,426.2 479.3,426.1 477.9,426.3 476.5,426.7 475.2,427.2 473.8,427.8 471.9,428.7 470,429.9 468,431.1 466.1,432.2 464.5,433.2 462.9,434.2 461.2,435 459.5,435.5 457.4,435.5 455.3,435.1 453,434.5 450.7,434 447.9,433.5 444.8,432.9 442,432.3 439.8,431.8 439.1,431.6 438.5,431.4 437.9,431.2 437.3,430.9 436.3,430.5 435.3,430.1 434.2,429.7 433.2,429.1 432.2,428.3 431.3,427.3 430.3,426.4 429.1,425.6 427.3,425 425.1,424.6 422.9,424.2 420.9,423.8 419.2,423.3 417.5,422.6 415.9,422 414.5,421.5 413.5,421.2 412.6,421 411.8,420.7 411,420.3 410.2,419.6 409.5,418.8 408.8,417.9 408,417.4 407.3,417.2 406.6,417.2 405.8,417.3 405.1,417.4 404.4,417.7 403.7,418.1 403,418.4 402.2,418.6 401.1,418.4 399.9,418 398.6,417.4 397.5,416.8 396.6,416.3 395.6,415.8 394.8,415.2 394,414.5 393.2,413.4 392.4,412.1 391.8,410.7 391,409.2 389.9,407.1 388.7,404.7 387.5,402.3 386.3,400 385.3,398.1 384.2,396.4 383.2,394.6 382.2,392.7 381,390.5 379.8,388.1 378.7,385.8 377.5,383.5 376.5,381.4 375.4,379.3 374.4,377.2 373.4,375.1 372.4,373.1 371.4,371.1 370.4,369.1 369.3,367.2 368.2,365.3 367,363.5 365.8,361.7 364.6,359.8 363.4,357.9 362.3,355.9 361.1,353.9 359.9,352 358.7,350.2 357.5,348.4 356.4,346.7 355.3,345 354.6,343.7 353.9,342.3 353.2,341.1 352.5,340.1 351.9,339.6 351.3,339.2 350.7,338.9 350.1,338.4 349.4,337.7 348.7,336.8 348,335.9 347.2,335 346.2,333.7 345.2,332.3 344.1,331 343.1,329.8 342.3,329 341.6,328.3 340.8,327.7 340.1,327.5 339.5,327.7 338.9,328.1 338.3,328.7 337.8,329.3 337.2,330.1 336.6,331.1 336.1,332.1 335.5,333.2 334.6,334.8 333.7,336.6 332.8,338.6 331.9,340.6 330.8,343.2 329.7,346 328.6,348.8 327.5,351.7 326.4,354.6 325.4,357.5 324.4,360.5 323.4,363.4 322.4,366.3 321.3,369.3 320.3,372.3 319.3,375.2 318.3,378.1 317.3,381.1 316.3,384 315.2,386.9 314.1,389.9 312.9,392.8 311.7,395.7 310.5,398.6 309.2,401.3 307.9,403.9 306.5,406.6 305.2,409.2 303.9,411.9 302.5,414.7 301.2,417.5 300,420 299.1,421.9 298.3,423.8 297.5,425.5 296.7,427.1 296.1,428.2 295.5,429.2 294.9,430.2 294.3,431 293.9,431.6 293.5,432.1 293.1,432.6 292.7,433 292.3,433.3 291.8,433.4 291.4,433.6 290.8,433.7 289.6,433.9 288.1,434 286.7,434.1 285.5,434.4 285,434.7 284.5,435 284.2,435.4 283.8,435.8 283.4,436.3 283,436.9 282.6,437.5 282.2,438.3 281,440.6 279.6,443.6 278.1,446.7 276.9,449.5 276.2,451.2 275.7,452.9 275.2,454.4 274.6,455.6 274.2,456.2 273.9,456.7 273.5,457.1 273,457.5 272.3,457.8 271.5,458.1 270.7,458.3 270,458.6 269.4,459 268.8,459.5 268.3,460.1 267.7,460.8 266.5,462.3 265.2,464 263.8,466 262.4,468 260.7,470.5 259,473.3 257.3,476 255.8,478.5 254.9,480.1 254.1,481.7 253.3,483.1 252.6,484.4 252.1,485.3 251.6,486.1 251.1,486.9 250.5,487.6 249.7,488.2 248.7,488.8 247.6,489.3 246.6,489.8 245.5,490.3 244.4,490.8 243.3,491.4 242,491.9 240.2,492.6 238.1,493.4 236,494.3 234.1,495.2 232.3,496.2 230.6,497.3 229,498.5 227.5,499.8 226.1,501.5 224.8,503.4 223.5,505.3 222.2,507 221.1,508.2 220,509.2 218.8,510.1 217.6,511 216.2,511.8 214.8,512.4 213.3,513 211.7,513.6 209.8,514.2 207.7,514.7 205.7,515.2 203.8,515.6 202.4,515.9 201.1,516.2 199.8,516.5 198.5,516.9 196.9,517.4 195.3,518 193.6,518.7 191.9,519.5 189.7,520.8 187.5,522.3 185.2,523.9 182.7,525.5 179.6,527.4 176.3,529.5 172.9,531.5 169.5,533.4 166.2,535.1 163,536.7 159.7,538.3 156.4,539.9 153.1,541.6 149.7,543.2 146.4,544.9 143.4,546.3 141.4,547.2 139.5,548.1 137.7,548.9 136,549.6 134.6,550.2 133.2,550.8 131.8,551.4 130.3,551.8 128.4,552 126.3,552.1 124.3,552.1 122.6,552.4 121.7,552.7 120.9,553.1 120.2,553.5 119.5,554 118.9,554.6 118.3,555.2 117.8,555.8 117.1,556.4 116,557 114.7,557.5 113.3,558 112,558.4 110.6,558.9 109.2,559.4 107.8,559.8 106.5,560.1 105.5,560.3 104.6,560.3 103.7,560.4 102.8,560.3 102.1,560.2 101.4,560 100.7,559.7 100,559.4 99.3,559 98.6,558.6 98,558.1 97.3,557.5 96.2,556.3 95.1,554.8 94,553.3 92.9,552 92.2,551.3 91.4,550.7 90.7,550.2 90,549.8 89.4,549.4 88.7,549.1 88,548.8 87.4,548.7 86.8,548.8 86.2,549 85.6,549.3 85,549.6 84.3,550.1 83.6,550.7 82.8,551.4 82,552 80.3,553 78.3,554.1 76.5,554.9 75.8,555.3"/></clipPath>
<g clip-path="url(#bandclip)">
<polygon points="76.1,555.6 82.3,552.3 65.2,540.9 59,544.2" fill="#ababad"/>
<polygon points="82.3,552.3 85.3,549.9 68.2,538.5 65.2,540.9" fill="#a2a2a4"/>
<polygon points="85.3,549.9 87.7,549 70.6,537.6 68.2,538.5" fill="#aeaeb0"/>
<polygon points="87.7,549 90.3,550.1 93.2,552.3 97.6,557.8 100.3,559.7 103.1,560.6 106.8,560.4 89.7,549 86,549.2 83.2,548.3 80.5,546.4 76.1,540.9 73.2,538.7 70.6,537.6" fill="#bdbdbf"/>
<polygon points="106.8,560.4 112.3,558.7 95.2,547.3 89.7,549" fill="#b1b1b3"/>
<polygon points="112.3,558.7 117.4,556.7 100.3,545.3 95.2,547.3" fill="#aeaeb0"/>
<polygon points="117.4,556.7 119.8,554.3 102.7,542.9 100.3,545.3" fill="#a2a2a4"/>
<polygon points="119.8,554.3 122.9,552.7 105.8,541.3 102.7,542.9" fill="#ababad"/>
<polygon points="122.9,552.7 130.6,552.1 113.5,540.7 105.8,541.3" fill="#bababc"/>
<polygon points="130.6,552.1 136.3,549.9 143.7,546.6 126.6,535.2 119.2,538.5 113.5,540.7" fill="#aeaeb0"/>
<polygon points="143.7,546.6 156.7,540.2 169.8,533.7 152.7,522.3 139.6,528.8 126.6,535.2" fill="#ababad"/>
<polygon points="169.8,533.7 183,525.8 165.9,514.4 152.7,522.3" fill="#a8a8aa"/>
<polygon points="183,525.8 192.2,519.8 175.1,508.4 165.9,514.4" fill="#a5a5a7"/>
<polygon points="192.2,519.8 198.8,517.2 181.7,505.8 175.1,508.4" fill="#aeaeb0"/>
<polygon points="198.8,517.2 204.1,515.9 212,513.9 194.9,502.5 187,504.5 181.7,505.8" fill="#b4b4b6"/>
<polygon points="212,513.9 217.9,511.3 200.8,499.9 194.9,502.5" fill="#aeaeb0"/>
<polygon points="217.9,511.3 222.5,507.3 227.8,500.1 210.7,488.7 205.4,495.9 200.8,499.9" fill="#a2a2a4"/>
<polygon points="227.8,500.1 234.4,495.5 217.3,484.1 210.7,488.7" fill="#a5a5a7"/>
<polygon points="234.4,495.5 242.3,492.2 225.2,480.8 217.3,484.1" fill="#aeaeb0"/>
<polygon points="242.3,492.2 246.9,490.1 229.8,478.7 225.2,480.8" fill="#ababad"/>
<polygon points="246.9,490.1 250.8,487.9 233.7,476.5 229.8,478.7" fill="#a8a8aa"/>
<polygon points="250.8,487.9 252.9,484.7 256.1,478.8 262.7,468.3 268,461.1 270.3,458.9 253.2,447.5 250.9,449.7 245.6,456.9 239,467.4 235.8,473.3 233.7,476.5" fill="#a2a2a4"/>
<polygon points="270.3,458.9 273.3,457.8 256.2,446.4 253.2,447.5" fill="#aeaeb0"/>
<polygon points="273.3,457.8 274.9,455.9 277.2,449.8 282.5,438.6 284.1,436.1 285.8,434.7 268.7,423.3 267,424.7 265.4,427.2 260.1,438.4 257.8,444.5 256.2,446.4" fill="#a2a2a4"/>
<polygon points="285.8,434.7 291.1,434 274,422.6 268.7,423.3" fill="#bababc"/>
<polygon points="291.1,434 293,433.3 275.9,421.9 274,422.6" fill="#aeaeb0"/>
<polygon points="293,433.3 294.6,431.3 297,427.4 300.3,420.3 305.5,409.5 310.8,398.9 315.5,387.2 319.6,375.5 323.7,363.7 327.8,352 332.2,340.9 335.8,333.5 338.1,329.6 340.4,327.8 323.3,316.4 321,318.2 318.7,322.1 315.1,329.5 310.7,340.6 306.6,352.3 302.5,364.1 298.4,375.8 293.7,387.5 288.4,398.1 283.2,408.9 279.9,416 277.5,419.9 275.9,421.9" fill="#a2a2a4"/>
<polygon points="340.4,327.8 343.4,330.1 347.5,335.3 350.4,338.7 352.8,340.4 355.6,345.3 360.2,352.3 364.9,360.1 369.6,367.5 373.7,375.4 377.8,383.8 382.5,393 386.6,400.3 391.3,409.5 394.3,414.8 397.8,417.1 402.5,418.9 385.4,407.5 380.7,405.7 377.2,403.4 374.2,398.1 369.5,388.9 365.4,381.6 360.7,372.4 356.6,364 352.5,356.1 347.8,348.7 343.1,340.9 338.5,333.9 335.7,329 333.3,327.3 330.4,323.9 326.3,318.7 323.3,316.4" fill="#bdbdbf"/>
<polygon points="402.5,418.9 405.4,417.7 388.3,406.3 385.4,407.5" fill="#aeaeb0"/>
<polygon points="405.4,417.7 408.3,417.7 411.3,420.6 414.8,421.8 421.2,424.1 429.4,425.9 433.5,429.4 437.6,431.2 440.1,432.1 451,434.3 459.8,435.8 442.7,424.4 433.9,422.9 423,420.7 420.5,419.8 416.4,418 412.3,414.5 404.1,412.7 397.7,410.4 394.2,409.2 391.2,406.3 388.3,406.3" fill="#bdbdbf"/>
<polygon points="459.8,435.8 466.4,432.5 449.3,421.1 442.7,424.4" fill="#ababad"/>
<polygon points="466.4,432.5 474.1,428.1 457,416.7 449.3,421.1" fill="#a8a8aa"/>
<polygon points="474.1,428.1 479.6,426.4 462.5,415 457,416.7" fill="#b1b1b3"/>
<polygon points="479.6,426.4 486.2,427 469.1,415.6 462.5,415" fill="#bdbdbf"/>
<polygon points="486.2,427 494.9,422.6 477.8,411.2 469.1,415.6" fill="#ababad"/>
<polygon points="494.9,422.6 503.7,423.3 486.6,411.9 477.8,411.2" fill="#bdbdbf"/>
<polygon points="503.7,423.3 510.3,422 493.2,410.6 486.6,411.9" fill="#b7b7b9"/>
<polygon points="510.3,422 513.3,424.8 516.9,430.3 523.5,439.1 529,445.2 536.7,445.2 519.6,433.8 511.9,433.8 506.4,427.7 499.8,418.9 496.2,413.4 493.2,410.6" fill="#bdbdbf"/>
<polygon points="536.7,445.2 542.1,440.2 525,428.8 519.6,433.8" fill="#a2a2a4"/>
<polygon points="542.1,440.2 549.8,436.9 532.7,425.5 525,428.8" fill="#aeaeb0"/>
<polygon points="549.8,436.9 555.3,432.5 538.2,421.1 532.7,425.5" fill="#a2a2a4"/>
<polygon points="555.3,432.5 560.8,430.8 543.7,419.4 538.2,421.1" fill="#b1b1b3"/>
<polygon points="560.8,430.8 567.4,431.5 571.4,431.5 554.3,420.1 550.3,420.1 543.7,419.4" fill="#bdbdbf"/>
<polygon points="571.4,431.5 576.5,429.1 559.4,417.7 554.3,420.1" fill="#ababad"/>
<polygon points="576.5,429.1 581.6,427.8 564.5,416.4 559.4,417.7" fill="#b4b4b6"/>
<polygon points="581.6,427.8 587.9,427.4 570.8,416 564.5,416.4" fill="#bababc"/>
<polygon points="587.9,427.4 591.1,430.9 593.6,432.7 576.5,421.3 574,419.5 570.8,416" fill="#bdbdbf"/>
<polygon points="593.6,432.7 596.2,431.6 579.1,420.2 576.5,421.3" fill="#aeaeb0"/>
<polygon points="596.2,431.6 599.3,424.6 601.3,418.3 603.2,411.9 607,400.5 610.8,396 593.7,384.6 589.9,389.1 586.1,400.5 584.2,406.9 582.2,413.2 579.1,420.2" fill="#a2a2a4"/>
<polygon points="610.8,396 615.9,394.1 598.8,382.7 593.7,384.6" fill="#aeaeb0"/>
<polygon points="615.9,394.1 620.3,393.4 603.2,382 598.8,382.7" fill="#b7b7b9"/>
<polygon points="620.3,393.4 626.6,392.6 633.2,392 616.1,380.6 609.5,381.2 603.2,382" fill="#bababc"/>
<polygon points="633.2,392 637.3,393.9 640.9,396.4 623.8,385 620.2,382.5 616.1,380.6" fill="#bdbdbf"/>
<polygon points="640.9,396.4 643.1,395.9 626,384.5 623.8,385" fill="#b4b4b6"/>
<polygon points="643.1,395.9 647.5,384.9 655.2,365.2 661.8,346.5 663.9,341.7 665.5,339.9 648.4,328.5 646.8,330.3 644.7,335.1 638.1,353.8 630.4,373.5 626,384.5" fill="#a2a2a4"/>
<polygon points="665.5,339.9 667.3,340.9 668.4,343.2 673.8,355.3 676,356 658.9,344.6 656.7,343.9 651.3,331.8 650.2,329.5 648.4,328.5" fill="#bdbdbf"/>
<polygon points="676,356 678.2,352 661.1,340.6 658.9,344.6" fill="#a2a2a4"/>
<polygon points="678.2,352 680.3,351.9 684.3,356.3 687.9,359.6 696.7,371.9 705.4,386 712.5,396.5 717.7,407.1 724.8,419.4 731.8,431.7 738.8,442.2 745.9,450.1 754.7,455.4 760.3,457.1 764.8,457.3 747.7,445.9 743.2,445.7 737.6,444 728.8,438.7 721.7,430.8 714.7,420.3 707.7,408 700.6,395.7 695.4,385.1 688.3,374.6 679.6,360.5 670.8,348.2 667.2,344.9 663.2,340.5 661.1,340.6" fill="#bdbdbf"/>
<polygon points="764.8,457.3 774.3,455.5 757.2,444.1 747.7,445.9" fill="#b7b7b9"/>
<polygon points="774.3,455.5 782.5,453.2 765.4,441.8 757.2,444.1" fill="#b4b4b6"/>
<polygon points="782.5,453.2 788.4,453 771.3,441.6 765.4,441.8" fill="#bdbdbf"/>
<polygon points="788.4,453 795.9,452.2 778.8,440.8 771.3,441.6" fill="#bababc"/>
<polygon points="795.9,452.2 798.3,450.3 781.2,438.9 778.8,440.8" fill="#a2a2a4"/>
<polygon points="798.3,450.3 800.5,449.3 783.4,437.9 781.2,438.9" fill="#ababad"/>
<polygon points="800.5,449.3 803.3,449.9 806.2,450.7 812.2,451.9 795.1,440.5 789.1,439.3 786.2,438.5 783.4,437.9" fill="#bdbdbf"/>
<polygon points="812.2,451.9 814.8,450.1 797.7,438.7 795.1,440.5" fill="#a5a5a7"/>
<polygon points="814.8,450.1 816.6,447.7 819.9,443.3 824,439.6 829.9,432.2 837.3,416.6 844.7,399.7 852.2,380.3 863.2,351.8 872,332.1 875.7,326.6 882.9,307.9 891.7,286 898.5,268.1 881.4,256.7 874.6,274.6 865.8,296.5 858.6,315.2 854.9,320.7 846.1,340.4 835.1,368.9 827.6,388.3 820.2,405.2 812.8,420.8 806.9,428.2 802.8,431.9 799.5,436.3 797.7,438.7" fill="#a2a2a4"/>
</g>
<polygon points="59.3,544.5 75.8,555.3 76,592.5 59.3,586.3" fill="#9b9b9d"/>
<polyline points="76,591.8 58.8,586.6 58.8,545 59.3,544.5 60,544.1 61.8,543.3 63.8,542.2 65.5,541.2 66.3,540.6 67.1,539.9 67.8,539.3 68.5,538.8 69.1,538.5 69.7,538.2 70.3,538 70.9,537.9 71.5,538 72.2,538.3 72.9,538.6 73.5,539 74.2,539.4 74.9,539.9 75.7,540.5 76.4,541.2 77.5,542.5 78.6,544 79.7,545.5 80.8,546.7 81.5,547.3 82.1,547.8 82.8,548.2 83.5,548.6 84.2,548.9 84.9,549.2 85.6,549.4 86.3,549.5 87.2,549.6 88.1,549.5 89,549.5 90,549.3 91.3,549 92.7,548.6 94.1,548.1 95.5,547.6 96.8,547.2 98.2,546.7 99.5,546.2 100.6,545.6 101.3,545 101.8,544.4 102.4,543.8 103,543.2 103.7,542.7 104.4,542.3 105.2,541.9 106.1,541.6 107.8,541.3 109.8,541.3 111.9,541.2 113.8,541 115.3,540.6 116.7,540 118.1,539.4 119.5,538.8 121.2,538.1 123,537.3 124.9,536.4 126.9,535.5 129.9,534.1 133.2,532.4 136.6,530.8 139.9,529.1 143.2,527.5 146.5,525.9 149.7,524.3 153,522.6 156.4,520.7 159.8,518.7 163.1,516.6 166.2,514.7 168.7,513.1 171,511.5 173.2,510 175.4,508.7 177.1,507.9 178.8,507.2 180.4,506.6 182,506.1 183.3,505.7 184.6,505.4 185.9,505.1 187.3,504.8 189.2,504.4 191.2,503.9 193.3,503.4 195.2,502.8 196.8,502.2 198.3,501.6 199.7,501 201.1,500.2 202.3,499.3 203.5,498.4 204.6,497.4 205.7,496.2 207,494.5 208.3,492.6 209.6,490.7 211,489 212.5,487.7 214.1,486.5 215.8,485.4 217.6,484.4 219.5,483.5 221.6,482.6 223.7,481.8 225.5,481.1 226.8,480.6 227.9,480 229,479.5 230.1,479 231.1,478.5 232.2,478 233.2,477.4 234,476.8 234.6,476.1 235.1,475.3 235.6,474.5 236.1,473.6 236.8,472.3 237.6,470.9 238.4,469.3 239.3,467.7 240.8,465.2 242.5,462.5 244.2,459.7 245.9,457.2 247.3,455.2 248.7,453.2 250,451.5 251.2,450 251.8,449.3 252.3,448.7 252.9,448.2 253.5,447.8 254.2,447.5 255,447.3 255.8,447 256.5,446.7 257,446.3 257.4,445.9 257.7,445.4 258.1,444.8 258.7,443.6 259.2,442.1 259.7,440.4 260.4,438.7 261.6,435.9 263.1,432.8 264.5,429.8 265.7,427.5 266.1,426.7 266.5,426.1 266.9,425.5 267.3,425 267.7,424.6 268,424.2 268.5,423.9 269,423.6 270.2,423.3 271.6,423.2 273.1,423.1 274.3,422.9 274.9,422.8 275.3,422.6 275.8,422.5 276.2,422.2 276.6,421.8 277,421.3 277.4,420.8 277.8,420.2 278.4,419.4 279,418.4 279.6,417.4 280.2,416.3 281,414.7 281.8,413 282.6,411.1 283.5,409.2 284.7,406.7 286,403.9 287.4,401.1 288.7,398.4 290,395.8 291.4,393.1 292.7,390.5 294,387.8 295.2,384.9 296.4,382 297.6,379.1 298.7,376.1 299.8,373.2 300.8,370.3 301.8,367.3 302.8,364.4 303.8,361.5 304.8,358.5 305.9,355.5 306.9,352.6 307.9,349.7 308.9,346.7 309.9,343.8 311,340.9 312.1,338.1 313.2,335.3 314.4,332.5 315.4,329.8 316.2,327.2 316.9,324.5 317.6,322 318.5,320 319.1,319 319.8,318.2 320.5,317.5 321.3,316.9 322,316.5 322.7,316.2 323.5,316 324.3,315.9 325.3,316.1 326.3,316.5 327.4,317.1 328.4,317.7 329.5,318.5 330.5,319.5 331.5,320.6 332.5,321.6 333.5,322.5 334.4,323.5 335.3,324.4 336.3,325.2 337.2,325.8 338.2,326.4 339.2,326.9 340.1,327.5 340.9,328 341.6,328.6 342.4,329.1 343.1,329.8 344.1,331 345.2,332.3 346.2,333.7 347.2,335 348,335.9 348.7,336.8 349.4,337.7 350.1,338.4 350.7,338.9 351.3,339.2 351.9,339.6 352.5,340.1 353.4,341.3 354.5,342.7 355.2,344.1 355.3,345 353.2,344.7 349.4,343.1 345.5,341.5 343.4,341.2 343.6,342.4 344.9,344.5 346.6,346.8 348.1,349 349.3,350.9 350.5,352.7 351.7,354.5 352.8,356.4 353.9,358.3 354.9,360.3 355.9,362.3 356.9,364.3 357.9,366.4 358.9,368.5 360,370.6 361,372.7 362.2,375 363.3,377.3 364.5,379.7 365.7,381.9 366.7,383.8 367.8,385.5 368.8,387.3 369.8,389.2 371,391.5 372.2,393.9 373.4,396.3 374.5,398.4 375.3,399.9 375.9,401.3 376.7,402.6 377.5,403.7 378.3,404.4 379.1,405 380.1,405.5 381,406 382.1,406.6 383.4,407.2 384.6,407.6 385.7,407.8 386.5,407.6 387.2,407.3 387.9,406.9 388.6,406.6 389.3,406.5 390.1,406.4 390.8,406.4 391.5,406.6 392.3,407.1 393,408 393.7,408.8 394.5,409.5 395.3,409.9 396.1,410.2 397,410.4 398,410.7 399.4,411.2 401,411.8 402.7,412.5 404.4,413 406.4,413.4 408.6,413.8 410.8,414.2 412.6,414.8 413.8,415.6 414.8,416.5 415.7,417.5 416.7,418.3 417.7,418.9 418.8,419.3 419.8,419.7 420.8,420.1 421.4,420.4 422,420.6 422.6,420.8 423.3,421 425.5,421.5 428.3,422.1 431.4,422.7 434.2,423.2 436.5,423.7 438.8,424.3 440.9,424.7 443,424.7 444.7,424.2 446.4,423.4 448,422.4 449.6,421.4 451.5,420.3 453.5,419.1 455.4,417.9 457.3,417 458.7,416.4 460,415.9 461.4,415.5 462.8,415.3 464.4,415.4 466,415.7 467.7,416 469.4,415.9 471.5,415.1 473.7,413.7 475.9,412.4 478.1,411.5 480.3,411.4 482.6,411.7 484.8,412.1 486.9,412.2 488.7,411.9 490.5,411.3 492.1,410.9 493.5,410.9 494.4,411.3 495.1,412 495.8,412.8 496.5,413.7 497.4,414.9 498.2,416.2 499.1,417.7 500.1,419.2 501.6,421.3 503.3,423.6 505,425.9 506.7,428 508,429.8 509.3,431.5 510.7,433 512.2,434.1 514,434.6 516,434.8 518.1,434.6 519.9,434.1 521.4,433.2 522.6,431.8 523.9,430.3 525.3,429.1 527.1,428.2 529.1,427.4 531.2,426.7 533,425.8 534.5,424.7 535.8,423.5 537.1,422.3 538.5,421.4 539.8,420.8 541.2,420.3 542.6,419.9 544,419.7 545.6,419.7 547.4,419.9 549,420.2 550.6,420.4 551.7,420.5 552.6,420.6 553.6,420.6 554.6,420.4 555.8,419.9 557,419.1 558.3,418.3 559.7,417.6 561.6,417 563.8,416.6 565.9,416.3 568,416.2 569.7,416.3 571.4,416.7 573,417.1 574.5,417.6 575.6,418 576.6,418.5 577.5,419.1 578.3,419.6 578.9,420.1 579.4,420.6 579.9,421.1 580.3,421.2 580.7,420.9 580.9,420.2 581.2,419.3 581.4,418.4 581.7,417.1 582,415.6 582.3,414 582.6,412.5 583,411.2 583.5,409.9 584,408.6 584.5,407.2 585,405.7 585.4,404.2 585.9,402.5 586.4,400.8 587.2,398 588.1,394.9 589.1,391.9 590.2,389.4 591,388 591.9,386.8 592.9,385.8 594,384.9 595.2,384.2 596.5,383.7 597.8,383.3 599.1,383 600.2,382.8 601.3,382.6 602.3,382.5 603.5,382.3 605,382.1 606.6,381.9 608.2,381.7 609.8,381.5 611.5,381.3 613.2,381 614.9,380.8 616.4,380.9 617.5,381.2 618.6,381.7 619.5,382.2 620.5,382.8 621.4,383.5 622.4,384.2 623.3,384.9 624.1,385.3 624.7,385.4 625.2,385.3 625.8,385.2 626.3,384.8 627.4,383.1 628.5,380.4 629.5,377.1 630.7,373.8 632.5,369.3 634.5,364.3 636.5,359.1 638.4,354.1 640.2,349 641.9,343.8 643.5,339 645,335.4 645.6,334.2 646.1,333.2 646.6,332.4 647.2,331.8 647.8,331.5 648.5,331.3 649.3,331.2 650,331.2 650.7,331.2 651.4,331.2 652.1,331.3 653,331.6 655.4,333 658.4,335.1 661.4,337.3 663.5,338.8 664,339.1 664.4,339.3 664.8,339.4 665.2,339.6 665.7,339.8 666.1,340 666.6,340.3 667,340.6 667.3,341 667.6,341.6 667.8,342.2 668.1,342.9 669.2,345.6 670.6,349.3 672.1,352.8 673.5,355 674.1,355.4 674.6,355.7 675.2,355.8 675.7,355.7 676.3,355 676.8,353.8 677.3,352.5 677.9,351.7 678.4,351.5 678.9,351.4 679.4,351.4 680,351.6 681.2,352.5 682.6,353.9 683.6,355.3 684,356 681.9,354.9 677.7,352.1 673.4,349.4 671.1,348.5 671.8,350.1 674.2,353.3 677.2,357.2 679.9,360.8 682.1,364.3 684.3,367.9 686.5,371.5 688.6,374.9 690.4,377.6 692.3,380.2 694.1,382.8 695.7,385.4 697.1,388 698.3,390.6 699.6,393.3 700.9,396 702.6,399 704.4,402.1 706.2,405.2 708,408.3 709.7,411.4 711.5,414.5 713.2,417.6 715,420.6 716.7,423.3 718.4,426 720.2,428.6 722,431.1 723.7,433.3 725.4,435.3 727.2,437.2 729.1,439 731.2,440.6 733.5,442 735.8,443.3 737.9,444.3 739.4,444.9 740.8,445.4 742.2,445.7 743.5,446 744.6,446.2 745.7,446.2 746.8,446.3 748,446.2 750.2,445.9 752.6,445.5 755.1,445 757.5,444.4 759.6,443.8 761.7,443.1 763.8,442.5 765.7,442.1 767.2,442 768.7,441.9 770.1,441.9 771.6,441.9 773.5,441.8 775.6,441.7 777.5,441.5 779.1,441.1 779.8,440.7 780.4,440.2 780.9,439.6 781.5,439.2 782,438.9 782.6,438.6 783.1,438.3 783.7,438.2 784.4,438.2 785.1,438.4 785.8,438.6 786.5,438.8 787.2,439 787.9,439.2 788.6,439.4 789.4,439.6 790.8,440 792.4,440.5 794,440.8 795.4,440.8 796.2,440.5 796.8,440.1 797.4,439.5 798,439 798.5,438.5 798.9,437.9 799.3,437.3 799.8,436.6 800.5,435.6 801.3,434.4 802.2,433.3 803.1,432.2 804.1,431.3 805.1,430.4 806.1,429.5 807.2,428.5 808.6,426.9 810.1,425.2 811.6,423.3 813.1,421.1 815,417.7 816.9,413.7 818.7,409.6 820.5,405.5 822.4,401.4 824.2,397.2 826.1,392.9 827.9,388.6 829.8,383.9 831.6,379.2 833.4,374.3 835.4,369.2 838,362.3 840.8,354.9 843.6,347.6 846.4,340.7 848.7,335.2 851,329.8 853.2,324.9 855.2,321 856.2,319.4 857.1,318.2 858,317.1 858.9,315.5 860.6,311.7 862.4,307 864.2,301.8 866.1,296.8 868.3,291.4 870.5,285.8 872.8,280.3 874.9,274.9 877,269.5 879.2,263.6 881,258.9 881.7,257 897.2,267.2" fill="none" stroke="#111" stroke-width="4.1" stroke-linejoin="round" stroke-linecap="round"/>
<path d="M881.7 257L898.2 267.8" stroke="#111" stroke-width="2" fill="none"/>
<polygon points="75.8,555.3 76.5,554.9 78.3,554.1 80.3,553 82,552 82.8,551.4 83.6,550.7 84.3,550.1 85,549.6 85.6,549.3 86.2,549 86.8,548.8 87.4,548.7 88,548.8 88.7,549.1 89.4,549.4 90,549.8 90.7,550.2 91.4,550.7 92.2,551.3 92.9,552 94,553.3 95.1,554.8 96.2,556.3 97.3,557.5 98,558.1 98.6,558.6 99.3,559 100,559.4 100.7,559.7 101.4,560 102.1,560.2 102.8,560.3 103.7,560.4 104.6,560.3 105.5,560.3 106.5,560.1 107.8,559.8 109.2,559.4 110.6,558.9 112,558.4 113.3,558 114.7,557.5 116,557 117.1,556.4 117.8,555.8 118.3,555.2 118.9,554.6 119.5,554 120.2,553.5 120.9,553.1 121.7,552.7 122.6,552.4 124.3,552.1 126.3,552.1 128.4,552 130.3,551.8 131.8,551.4 133.2,550.8 134.6,550.2 136,549.6 137.7,548.9 139.5,548.1 141.4,547.2 143.4,546.3 146.4,544.9 149.7,543.2 153.1,541.6 156.4,539.9 159.7,538.3 163,536.7 166.2,535.1 169.5,533.4 172.9,531.5 176.3,529.5 179.6,527.4 182.7,525.5 185.2,523.9 187.5,522.3 189.7,520.8 191.9,519.5 193.6,518.7 195.3,518 196.9,517.4 198.5,516.9 199.8,516.5 201.1,516.2 202.4,515.9 203.8,515.6 205.7,515.2 207.7,514.7 209.8,514.2 211.7,513.6 213.3,513 214.8,512.4 216.2,511.8 217.6,511 218.8,510.1 220,509.2 221.1,508.2 222.2,507 223.5,505.3 224.8,503.4 226.1,501.5 227.5,499.8 229,498.5 230.6,497.3 232.3,496.2 234.1,495.2 236,494.3 238.1,493.4 240.2,492.6 242,491.9 243.3,491.4 244.4,490.8 245.5,490.3 246.6,489.8 247.6,489.3 248.7,488.8 249.7,488.2 250.5,487.6 251.1,486.9 251.6,486.1 252.1,485.3 252.6,484.4 253.3,483.1 254.1,481.7 254.9,480.1 255.8,478.5 257.3,476 259,473.3 260.7,470.5 262.4,468 263.8,466 265.2,464 266.5,462.3 267.7,460.8 268.3,460.1 268.8,459.5 269.4,459 270,458.6 270.7,458.3 271.5,458.1 272.3,457.8 273,457.5 273.5,457.1 273.9,456.7 274.2,456.2 274.6,455.6 275.2,454.4 275.7,452.9 276.2,451.2 276.9,449.5 278.1,446.7 279.6,443.6 281,440.6 282.2,438.3 282.6,437.5 283,436.9 283.4,436.3 283.8,435.8 284.2,435.4 284.5,435 285,434.7 285.5,434.4 286.7,434.1 288.1,434 289.6,433.9 290.8,433.7 291.4,433.6 291.8,433.4 292.3,433.3 292.7,433 293.1,432.6 293.5,432.1 293.9,431.6 294.3,431 294.9,430.2 295.5,429.2 296.1,428.2 296.7,427.1 297.5,425.5 298.3,423.8 299.1,421.9 300,420 301.2,417.5 302.5,414.7 303.9,411.9 305.2,409.2 306.5,406.6 307.9,403.9 309.2,401.3 310.5,398.6 311.7,395.7 312.9,392.8 314.1,389.9 315.2,386.9 316.3,384 317.3,381.1 318.3,378.1 319.3,375.2 320.3,372.3 321.3,369.3 322.4,366.3 323.4,363.4 324.4,360.5 325.4,357.5 326.4,354.6 327.5,351.7 328.6,348.8 329.7,346 330.8,343.2 331.9,340.6 332.8,338.6 333.7,336.6 334.6,334.8 335.5,333.2 336.1,332.1 336.6,331.1 337.2,330.1 337.8,329.3 338.3,328.7 338.9,328.1 339.5,327.7 340.1,327.5 340.8,327.7 341.6,328.3 342.3,329 343.1,329.8 344.1,331 345.2,332.3 346.2,333.7 347.2,335 348,335.9 348.7,336.8 349.4,337.7 350.1,338.4 350.7,338.9 351.3,339.2 351.9,339.6 352.5,340.1 353.2,341.1 353.9,342.3 354.6,343.7 355.3,345 356.4,346.7 357.5,348.4 358.7,350.2 359.9,352 361.1,353.9 362.3,355.9 363.4,357.9 364.6,359.8 365.8,361.7 367,363.5 368.2,365.3 369.3,367.2 370.4,369.1 371.4,371.1 372.4,373.1 373.4,375.1 374.4,377.2 375.4,379.3 376.5,381.4 377.5,383.5 378.7,385.8 379.8,388.1 381,390.5 382.2,392.7 383.2,394.6 384.2,396.4 385.3,398.1 386.3,400 387.5,402.3 388.7,404.7 389.9,407.1 391,409.2 391.8,410.7 392.4,412.1 393.2,413.4 394,414.5 394.8,415.2 395.6,415.8 396.6,416.3 397.5,416.8 398.6,417.4 399.9,418 401.1,418.4 402.2,418.6 403,418.4 403.7,418.1 404.4,417.7 405.1,417.4 405.8,417.3 406.6,417.2 407.3,417.2 408,417.4 408.8,417.9 409.5,418.8 410.2,419.6 411,420.3 411.8,420.7 412.6,421 413.5,421.2 414.5,421.5 415.9,422 417.5,422.6 419.2,423.3 420.9,423.8 422.9,424.2 425.1,424.6 427.3,425 429.1,425.6 430.3,426.4 431.3,427.3 432.2,428.3 433.2,429.1 434.2,429.7 435.3,430.1 436.3,430.5 437.3,430.9 437.9,431.2 438.5,431.4 439.1,431.6 439.8,431.8 442,432.3 444.8,432.9 447.9,433.5 450.7,434 453,434.5 455.3,435.1 457.4,435.5 459.5,435.5 461.2,435 462.9,434.2 464.5,433.2 466.1,432.2 468,431.1 470,429.9 471.9,428.7 473.8,427.8 475.2,427.2 476.5,426.7 477.9,426.3 479.3,426.1 480.9,426.2 482.5,426.5 484.2,426.8 485.9,426.7 488,425.9 490.2,424.5 492.4,423.2 494.6,422.3 496.8,422.2 499.1,422.5 501.3,422.9 503.4,423 505.2,422.7 507,422.1 508.6,421.7 510,421.7 510.9,422.1 511.6,422.8 512.3,423.6 513,424.5 513.9,425.7 514.7,427 515.6,428.5 516.6,430 518.1,432.1 519.8,434.4 521.5,436.7 523.2,438.8 524.5,440.6 525.8,442.3 527.2,443.8 528.7,444.9 530.5,445.4 532.5,445.6 534.6,445.4 536.4,444.9 537.9,444 539.1,442.6 540.4,441.1 541.8,439.9 543.6,439 545.6,438.2 547.7,437.5 549.5,436.6 551,435.5 552.3,434.3 553.6,433.1 555,432.2 556.3,431.6 557.7,431.1 559.1,430.7 560.5,430.5 562.1,430.5 563.9,430.7 565.5,431 567.1,431.2 568.2,431.3 569.1,431.3 570.1,431.3 571.1,431.2 572.3,430.8 573.6,430.1 574.9,429.4 576.2,428.8 577.4,428.4 578.7,428 580,427.7 581.3,427.5 582.9,427.2 584.6,426.9 586.2,426.8 587.6,427.1 588.6,427.8 589.3,428.7 590.1,429.7 590.8,430.6 591.4,431.2 592,431.7 592.7,432.2 593.3,432.4 593.9,432.4 594.6,432.2 595.3,431.8 595.9,431.3 596.8,430 597.6,428.2 598.3,426.2 599,424.3 599.6,422.7 600.1,421.1 600.5,419.6 601,418 601.5,416.4 601.9,414.9 602.4,413.3 602.9,411.6 603.7,408.8 604.6,405.7 605.6,402.7 606.7,400.2 607.5,398.8 608.4,397.6 609.4,396.6 610.5,395.7 611.7,395 613,394.5 614.3,394.1 615.6,393.8 616.7,393.6 617.8,393.4 618.8,393.3 620,393.1 621.5,392.9 623.1,392.7 624.7,392.5 626.3,392.3 628,392.1 629.7,391.8 631.4,391.6 632.9,391.7 634,392 635.1,392.5 636,393 637,393.6 637.9,394.3 638.9,395 639.8,395.7 640.6,396.1 641.2,396.2 641.7,396.1 642.3,396 642.8,395.6 643.9,393.9 645,391.2 646,387.9 647.2,384.6 649,380.1 651,375.1 653,369.9 654.9,364.9 656.7,359.9 658.5,354.8 660.1,350 661.5,346.2 662.1,344.7 662.6,343.4 663.1,342.3 663.6,341.4 664,340.8 664.4,340.2 664.8,339.8 665.2,339.6 665.6,339.6 666.1,339.9 666.6,340.2 667,340.6 667.3,341 667.6,341.6 667.8,342.2 668.1,342.9 669.2,345.6 670.6,349.3 672.1,352.8 673.5,355 674.1,355.4 674.6,355.7 675.2,355.8 675.7,355.7 676.3,355 676.8,353.8 677.3,352.5 677.9,351.7 678.4,351.5 678.9,351.4 679.4,351.4 680,351.6 681,352.3 682,353.5 683,354.8 684,356 684.9,356.8 685.7,357.5 686.6,358.3 687.6,359.3 689.6,361.8 691.8,364.9 694.2,368.3 696.4,371.6 698.6,375.1 700.8,378.7 703,382.3 705.1,385.7 706.9,388.4 708.8,391 710.6,393.6 712.2,396.2 713.6,398.8 714.8,401.4 716.1,404.1 717.4,406.8 719.1,409.8 720.9,412.9 722.7,416 724.5,419.1 726.2,422.2 728,425.3 729.7,428.4 731.5,431.4 733.2,434.1 734.9,436.8 736.7,439.4 738.5,441.9 740.2,444.1 741.9,446.1 743.7,448 745.6,449.8 747.7,451.4 750,452.8 752.3,454.1 754.4,455.1 755.9,455.7 757.3,456.2 758.7,456.5 760,456.8 761.1,457 762.2,457 763.3,457.1 764.5,457 766.7,456.7 769.1,456.3 771.6,455.8 774,455.2 776.1,454.6 778.2,453.9 780.3,453.3 782.2,452.9 783.7,452.8 785.2,452.7 786.6,452.7 788.1,452.7 790,452.6 792.1,452.5 794,452.3 795.6,451.9 796.3,451.5 796.9,451 797.4,450.4 798,450 798.5,449.7 799.1,449.4 799.6,449.1 800.2,449 800.9,449 801.6,449.2 802.3,449.4 803,449.6 803.7,449.8 804.4,450 805.1,450.2 805.9,450.4 807.3,450.8 808.9,451.3 810.5,451.6 811.9,451.6 812.7,451.3 813.3,450.9 813.9,450.3 814.5,449.8 815,449.3 815.4,448.7 815.8,448.1 816.3,447.4 817,446.4 817.8,445.2 818.7,444.1 819.6,443 820.6,442.1 821.6,441.2 822.6,440.3 823.7,439.3 825.1,437.7 826.6,436 828.1,434.1 829.6,431.9 831.5,428.5 833.4,424.5 835.2,420.4 837,416.3 838.9,412.2 840.7,408 842.6,403.7 844.4,399.4 846.3,394.7 848.1,390 849.9,385.1 851.9,380 854.5,373.1 857.3,365.7 860.1,358.4 862.9,351.5 865.2,346 867.5,340.6 869.7,335.7 871.7,331.8 872.7,330.2 873.6,329 874.5,327.9 875.4,326.3 877.1,322.5 878.9,317.8 880.7,312.6 882.6,307.6 884.8,302.2 887,296.6 889.3,291.1 891.4,285.7 893.5,280.3 895.7,274.4 897.5,269.7 898.2,267.8 898.2,476.4 76,591.2" fill="url(#gfill)"/>
<g stroke="#222" stroke-width="1.1" fill="none">
<path d="M106.7 560V603.9"/>
<path d="M143.2 546.4V598.8"/>
<path d="M202.8 515.8V590.5"/>
<path d="M226.3 501.2V587.2"/>
<path d="M250.4 487.7V583.9"/>
<path d="M273.4 457.2V580.6"/>
<path d="M291.7 433.5V578.1"/>
<path d="M303.2 413.3V576.5"/>
<path d="M337.8 329.3V571.7"/>
<path d="M395 415.3V563.7"/>
<path d="M413.7 421.3V561.1"/>
<path d="M439.6 431.7V557.4"/>
<path d="M479 426.1V551.9"/>
<path d="M503 423V548.6"/>
<path d="M528.5 444.8V545"/>
<path d="M566.4 431.1V539.7"/>
<path d="M594.8 432.1V535.8"/>
<path d="M626 392.3V531.4"/>
<path d="M642.8 395.6V529.1"/>
<path d="M665.9 339.8V525.9"/>
<path d="M677.9 351.7V524.2"/>
<path d="M737.9 441.1V515.8"/>
<path d="M754.7 455.2V513.4"/>
<path d="M787.9 452.7V508.8"/>
<path d="M798.9 449.4V507.3"/>
<path d="M819.1 443.6V504.5"/>
<path d="M875.3 326.5V496.6"/>
</g>
<path d="M76 555.5V607" stroke="#111" stroke-width="1.2" fill="none"/>
<ellipse cx="76" cy="600.8" rx="1.1" ry="2.6" fill="#fff" stroke="#111" stroke-width="0.8"/>
<path d="M898.2 267.8V493.4" stroke="#111" stroke-width="1.8" fill="none"/>
<polyline points="75.8,555.3 76.5,554.9 78.3,554.1 80.3,553 82,552 82.8,551.4 83.6,550.7 84.3,550.1 85,549.6 85.6,549.3 86.2,549 86.8,548.8 87.4,548.7 88,548.8 88.7,549.1 89.4,549.4 90,549.8 90.7,550.2 91.4,550.7 92.2,551.3 92.9,552 94,553.3 95.1,554.8 96.2,556.3 97.3,557.5 98,558.1 98.6,558.6 99.3,559 100,559.4 100.7,559.7 101.4,560 102.1,560.2 102.8,560.3 103.7,560.4 104.6,560.3 105.5,560.3 106.5,560.1 107.8,559.8 109.2,559.4 110.6,558.9 112,558.4 113.3,558 114.7,557.5 116,557 117.1,556.4 117.8,555.8 118.3,555.2 118.9,554.6 119.5,554 120.2,553.5 120.9,553.1 121.7,552.7 122.6,552.4 124.3,552.1 126.3,552.1 128.4,552 130.3,551.8 131.8,551.4 133.2,550.8 134.6,550.2 136,549.6 137.7,548.9 139.5,548.1 141.4,547.2 143.4,546.3 146.4,544.9 149.7,543.2 153.1,541.6 156.4,539.9 159.7,538.3 163,536.7 166.2,535.1 169.5,533.4 172.9,531.5 176.3,529.5 179.6,527.4 182.7,525.5 185.2,523.9 187.5,522.3 189.7,520.8 191.9,519.5 193.6,518.7 195.3,518 196.9,517.4 198.5,516.9 199.8,516.5 201.1,516.2 202.4,515.9 203.8,515.6 205.7,515.2 207.7,514.7 209.8,514.2 211.7,513.6 213.3,513 214.8,512.4 216.2,511.8 217.6,511 218.8,510.1 220,509.2 221.1,508.2 222.2,507 223.5,505.3 224.8,503.4 226.1,501.5 227.5,499.8 229,498.5 230.6,497.3 232.3,496.2 234.1,495.2 236,494.3 238.1,493.4 240.2,492.6 242,491.9 243.3,491.4 244.4,490.8 245.5,490.3 246.6,489.8 247.6,489.3 248.7,488.8 249.7,488.2 250.5,487.6 251.1,486.9 251.6,486.1 252.1,485.3 252.6,484.4 253.3,483.1 254.1,481.7 254.9,480.1 255.8,478.5 257.3,476 259,473.3 260.7,470.5 262.4,468 263.8,466 265.2,464 266.5,462.3 267.7,460.8 268.3,460.1 268.8,459.5 269.4,459 270,458.6 270.7,458.3 271.5,458.1 272.3,457.8 273,457.5 273.5,457.1 273.9,456.7 274.2,456.2 274.6,455.6 275.2,454.4 275.7,452.9 276.2,451.2 276.9,449.5 278.1,446.7 279.6,443.6 281,440.6 282.2,438.3 282.6,437.5 283,436.9 283.4,436.3 283.8,435.8 284.2,435.4 284.5,435 285,434.7 285.5,434.4 286.7,434.1 288.1,434 289.6,433.9 290.8,433.7 291.4,433.6 291.8,433.4 292.3,433.3 292.7,433 293.1,432.6 293.5,432.1 293.9,431.6 294.3,431 294.9,430.2 295.5,429.2 296.1,428.2 296.7,427.1 297.5,425.5 298.3,423.8 299.1,421.9 300,420 301.2,417.5 302.5,414.7 303.9,411.9 305.2,409.2 306.5,406.6 307.9,403.9 309.2,401.3 310.5,398.6 311.7,395.7 312.9,392.8 314.1,389.9 315.2,386.9 316.3,384 317.3,381.1 318.3,378.1 319.3,375.2 320.3,372.3 321.3,369.3 322.4,366.3 323.4,363.4 324.4,360.5 325.4,357.5 326.4,354.6 327.5,351.7 328.6,348.8 329.7,346 330.8,343.2 331.9,340.6 332.8,338.6 333.7,336.6 334.6,334.8 335.5,333.2 336.1,332.1 336.6,331.1 337.2,330.1 337.8,329.3 338.3,328.7 338.9,328.1 339.5,327.7 340.1,327.5 340.8,327.7 341.6,328.3 342.3,329 343.1,329.8 344.1,331 345.2,332.3 346.2,333.7 347.2,335 348,335.9 348.7,336.8 349.4,337.7 350.1,338.4 350.7,338.9 351.3,339.2 351.9,339.6 352.5,340.1 353.2,341.1 353.9,342.3 354.6,343.7 355.3,345 356.4,346.7 357.5,348.4 358.7,350.2 359.9,352 361.1,353.9 362.3,355.9 363.4,357.9 364.6,359.8 365.8,361.7 367,363.5 368.2,365.3 369.3,367.2 370.4,369.1 371.4,371.1 372.4,373.1 373.4,375.1 374.4,377.2 375.4,379.3 376.5,381.4 377.5,383.5 378.7,385.8 379.8,388.1 381,390.5 382.2,392.7 383.2,394.6 384.2,396.4 385.3,398.1 386.3,400 387.5,402.3 388.7,404.7 389.9,407.1 391,409.2 391.8,410.7 392.4,412.1 393.2,413.4 394,414.5 394.8,415.2 395.6,415.8 396.6,416.3 397.5,416.8 398.6,417.4 399.9,418 401.1,418.4 402.2,418.6 403,418.4 403.7,418.1 404.4,417.7 405.1,417.4 405.8,417.3 406.6,417.2 407.3,417.2 408,417.4 408.8,417.9 409.5,418.8 410.2,419.6 411,420.3 411.8,420.7 412.6,421 413.5,421.2 414.5,421.5 415.9,422 417.5,422.6 419.2,423.3 420.9,423.8 422.9,424.2 425.1,424.6 427.3,425 429.1,425.6 430.3,426.4 431.3,427.3 432.2,428.3 433.2,429.1 434.2,429.7 435.3,430.1 436.3,430.5 437.3,430.9 437.9,431.2 438.5,431.4 439.1,431.6 439.8,431.8 442,432.3 444.8,432.9 447.9,433.5 450.7,434 453,434.5 455.3,435.1 457.4,435.5 459.5,435.5 461.2,435 462.9,434.2 464.5,433.2 466.1,432.2 468,431.1 470,429.9 471.9,428.7 473.8,427.8 475.2,427.2 476.5,426.7 477.9,426.3 479.3,426.1 480.9,426.2 482.5,426.5 484.2,426.8 485.9,426.7 488,425.9 490.2,424.5 492.4,423.2 494.6,422.3 496.8,422.2 499.1,422.5 501.3,422.9 503.4,423 505.2,422.7 507,422.1 508.6,421.7 510,421.7 510.9,422.1 511.6,422.8 512.3,423.6 513,424.5 513.9,425.7 514.7,427 515.6,428.5 516.6,430 518.1,432.1 519.8,434.4 521.5,436.7 523.2,438.8 524.5,440.6 525.8,442.3 527.2,443.8 528.7,444.9 530.5,445.4 532.5,445.6 534.6,445.4 536.4,444.9 537.9,444 539.1,442.6 540.4,441.1 541.8,439.9 543.6,439 545.6,438.2 547.7,437.5 549.5,436.6 551,435.5 552.3,434.3 553.6,433.1 555,432.2 556.3,431.6 557.7,431.1 559.1,430.7 560.5,430.5 562.1,430.5 563.9,430.7 565.5,431 567.1,431.2 568.2,431.3 569.1,431.3 570.1,431.3 571.1,431.2 572.3,430.8 573.6,430.1 574.9,429.4 576.2,428.8 577.4,428.4 578.7,428 580,427.7 581.3,427.5 582.9,427.2 584.6,426.9 586.2,426.8 587.6,427.1 588.6,427.8 589.3,428.7 590.1,429.7 590.8,430.6 591.4,431.2 592,431.7 592.7,432.2 593.3,432.4 593.9,432.4 594.6,432.2 595.3,431.8 595.9,431.3 596.8,430 597.6,428.2 598.3,426.2 599,424.3 599.6,422.7 600.1,421.1 600.5,419.6 601,418 601.5,416.4 601.9,414.9 602.4,413.3 602.9,411.6 603.7,408.8 604.6,405.7 605.6,402.7 606.7,400.2 607.5,398.8 608.4,397.6 609.4,396.6 610.5,395.7 611.7,395 613,394.5 614.3,394.1 615.6,393.8 616.7,393.6 617.8,393.4 618.8,393.3 620,393.1 621.5,392.9 623.1,392.7 624.7,392.5 626.3,392.3 628,392.1 629.7,391.8 631.4,391.6 632.9,391.7 634,392 635.1,392.5 636,393 637,393.6 637.9,394.3 638.9,395 639.8,395.7 640.6,396.1 641.2,396.2 641.7,396.1 642.3,396 642.8,395.6 643.9,393.9 645,391.2 646,387.9 647.2,384.6 649,380.1 651,375.1 653,369.9 654.9,364.9 656.7,359.9 658.5,354.8 660.1,350 661.5,346.2 662.1,344.7 662.6,343.4 663.1,342.3 663.6,341.4 664,340.8 664.4,340.2 664.8,339.8 665.2,339.6 665.6,339.6 666.1,339.9 666.6,340.2 667,340.6 667.3,341 667.6,341.6 667.8,342.2 668.1,342.9 669.2,345.6 670.6,349.3 672.1,352.8 673.5,355 674.1,355.4 674.6,355.7 675.2,355.8 675.7,355.7 676.3,355 676.8,353.8 677.3,352.5 677.9,351.7 678.4,351.5 678.9,351.4 679.4,351.4 680,351.6 681,352.3 682,353.5 683,354.8 684,356 684.9,356.8 685.7,357.5 686.6,358.3 687.6,359.3 689.6,361.8 691.8,364.9 694.2,368.3 696.4,371.6 698.6,375.1 700.8,378.7 703,382.3 705.1,385.7 706.9,388.4 708.8,391 710.6,393.6 712.2,396.2 713.6,398.8 714.8,401.4 716.1,404.1 717.4,406.8 719.1,409.8 720.9,412.9 722.7,416 724.5,419.1 726.2,422.2 728,425.3 729.7,428.4 731.5,431.4 733.2,434.1 734.9,436.8 736.7,439.4 738.5,441.9 740.2,444.1 741.9,446.1 743.7,448 745.6,449.8 747.7,451.4 750,452.8 752.3,454.1 754.4,455.1 755.9,455.7 757.3,456.2 758.7,456.5 760,456.8 761.1,457 762.2,457 763.3,457.1 764.5,457 766.7,456.7 769.1,456.3 771.6,455.8 774,455.2 776.1,454.6 778.2,453.9 780.3,453.3 782.2,452.9 783.7,452.8 785.2,452.7 786.6,452.7 788.1,452.7 790,452.6 792.1,452.5 794,452.3 795.6,451.9 796.3,451.5 796.9,451 797.4,450.4 798,450 798.5,449.7 799.1,449.4 799.6,449.1 800.2,449 800.9,449 801.6,449.2 802.3,449.4 803,449.6 803.7,449.8 804.4,450 805.1,450.2 805.9,450.4 807.3,450.8 808.9,451.3 810.5,451.6 811.9,451.6 812.7,451.3 813.3,450.9 813.9,450.3 814.5,449.8 815,449.3 815.4,448.7 815.8,448.1 816.3,447.4 817,446.4 817.8,445.2 818.7,444.1 819.6,443 820.6,442.1 821.6,441.2 822.6,440.3 823.7,439.3 825.1,437.7 826.6,436 828.1,434.1 829.6,431.9 831.5,428.5 833.4,424.5 835.2,420.4 837,416.3 838.9,412.2 840.7,408 842.6,403.7 844.4,399.4 846.3,394.7 848.1,390 849.9,385.1 851.9,380 854.5,373.1 857.3,365.7 860.1,358.4 862.9,351.5 865.2,346 867.5,340.6 869.7,335.7 871.7,331.8 872.7,330.2 873.6,329 874.5,327.9 875.4,326.3 877.1,322.5 878.9,317.8 880.7,312.6 882.6,307.6 884.8,302.2 887,296.6 889.3,291.1 891.4,285.7 893.5,280.3 895.7,274.4 897.5,269.7 898.2,267.8" fill="none" stroke="#1a0000" stroke-width="5.8" stroke-linejoin="round" stroke-linecap="round"/>
<polyline points="75.8,555.3 76.5,554.9 78.3,554.1 80.3,553 82,552 82.8,551.4 83.6,550.7 84.3,550.1 85,549.6 85.6,549.3 86.2,549 86.8,548.8 87.4,548.7 88,548.8 88.7,549.1 89.4,549.4 90,549.8 90.7,550.2 91.4,550.7 92.2,551.3 92.9,552 94,553.3 95.1,554.8 96.2,556.3 97.3,557.5 98,558.1 98.6,558.6 99.3,559 100,559.4 100.7,559.7 101.4,560 102.1,560.2 102.8,560.3 103.7,560.4 104.6,560.3 105.5,560.3 106.5,560.1 107.8,559.8 109.2,559.4 110.6,558.9 112,558.4 113.3,558 114.7,557.5 116,557 117.1,556.4 117.8,555.8 118.3,555.2 118.9,554.6 119.5,554 120.2,553.5 120.9,553.1 121.7,552.7 122.6,552.4 124.3,552.1 126.3,552.1 128.4,552 130.3,551.8 131.8,551.4 133.2,550.8 134.6,550.2 136,549.6 137.7,548.9 139.5,548.1 141.4,547.2 143.4,546.3 146.4,544.9 149.7,543.2 153.1,541.6 156.4,539.9 159.7,538.3 163,536.7 166.2,535.1 169.5,533.4 172.9,531.5 176.3,529.5 179.6,527.4 182.7,525.5 185.2,523.9 187.5,522.3 189.7,520.8 191.9,519.5 193.6,518.7 195.3,518 196.9,517.4 198.5,516.9 199.8,516.5 201.1,516.2 202.4,515.9 203.8,515.6 205.7,515.2 207.7,514.7 209.8,514.2 211.7,513.6 213.3,513 214.8,512.4 216.2,511.8 217.6,511 218.8,510.1 220,509.2 221.1,508.2 222.2,507 223.5,505.3 224.8,503.4 226.1,501.5 227.5,499.8 229,498.5 230.6,497.3 232.3,496.2 234.1,495.2 236,494.3 238.1,493.4 240.2,492.6 242,491.9 243.3,491.4 244.4,490.8 245.5,490.3 246.6,489.8 247.6,489.3 248.7,488.8 249.7,488.2 250.5,487.6 251.1,486.9 251.6,486.1 252.1,485.3 252.6,484.4 253.3,483.1 254.1,481.7 254.9,480.1 255.8,478.5 257.3,476 259,473.3 260.7,470.5 262.4,468 263.8,466 265.2,464 266.5,462.3 267.7,460.8 268.3,460.1 268.8,459.5 269.4,459 270,458.6 270.7,458.3 271.5,458.1 272.3,457.8 273,457.5 273.5,457.1 273.9,456.7 274.2,456.2 274.6,455.6 275.2,454.4 275.7,452.9 276.2,451.2 276.9,449.5 278.1,446.7 279.6,443.6 281,440.6 282.2,438.3 282.6,437.5 283,436.9 283.4,436.3 283.8,435.8 284.2,435.4 284.5,435 285,434.7 285.5,434.4 286.7,434.1 288.1,434 289.6,433.9 290.8,433.7 291.4,433.6 291.8,433.4 292.3,433.3 292.7,433 293.1,432.6 293.5,432.1 293.9,431.6 294.3,431 294.9,430.2 295.5,429.2 296.1,428.2 296.7,427.1 297.5,425.5 298.3,423.8 299.1,421.9 300,420 301.2,417.5 302.5,414.7 303.9,411.9 305.2,409.2 306.5,406.6 307.9,403.9 309.2,401.3 310.5,398.6 311.7,395.7 312.9,392.8 314.1,389.9 315.2,386.9 316.3,384 317.3,381.1 318.3,378.1 319.3,375.2 320.3,372.3 321.3,369.3 322.4,366.3 323.4,363.4 324.4,360.5 325.4,357.5 326.4,354.6 327.5,351.7 328.6,348.8 329.7,346 330.8,343.2 331.9,340.6 332.8,338.6 333.7,336.6 334.6,334.8 335.5,333.2 336.1,332.1 336.6,331.1 337.2,330.1 337.8,329.3 338.3,328.7 338.9,328.1 339.5,327.7 340.1,327.5 340.8,327.7 341.6,328.3 342.3,329 343.1,329.8 344.1,331 345.2,332.3 346.2,333.7 347.2,335 348,335.9 348.7,336.8 349.4,337.7 350.1,338.4 350.7,338.9 351.3,339.2 351.9,339.6 352.5,340.1 353.2,341.1 353.9,342.3 354.6,343.7 355.3,345 356.4,346.7 357.5,348.4 358.7,350.2 359.9,352 361.1,353.9 362.3,355.9 363.4,357.9 364.6,359.8 365.8,361.7 367,363.5 368.2,365.3 369.3,367.2 370.4,369.1 371.4,371.1 372.4,373.1 373.4,375.1 374.4,377.2 375.4,379.3 376.5,381.4 377.5,383.5 378.7,385.8 379.8,388.1 381,390.5 382.2,392.7 383.2,394.6 384.2,396.4 385.3,398.1 386.3,400 387.5,402.3 388.7,404.7 389.9,407.1 391,409.2 391.8,410.7 392.4,412.1 393.2,413.4 394,414.5 394.8,415.2 395.6,415.8 396.6,416.3 397.5,416.8 398.6,417.4 399.9,418 401.1,418.4 402.2,418.6 403,418.4 403.7,418.1 404.4,417.7 405.1,417.4 405.8,417.3 406.6,417.2 407.3,417.2 408,417.4 408.8,417.9 409.5,418.8 410.2,419.6 411,420.3 411.8,420.7 412.6,421 413.5,421.2 414.5,421.5 415.9,422 417.5,422.6 419.2,423.3 420.9,423.8 422.9,424.2 425.1,424.6 427.3,425 429.1,425.6 430.3,426.4 431.3,427.3 432.2,428.3 433.2,429.1 434.2,429.7 435.3,430.1 436.3,430.5 437.3,430.9 437.9,431.2 438.5,431.4 439.1,431.6 439.8,431.8 442,432.3 444.8,432.9 447.9,433.5 450.7,434 453,434.5 455.3,435.1 457.4,435.5 459.5,435.5 461.2,435 462.9,434.2 464.5,433.2 466.1,432.2 468,431.1 470,429.9 471.9,428.7 473.8,427.8 475.2,427.2 476.5,426.7 477.9,426.3 479.3,426.1 480.9,426.2 482.5,426.5 484.2,426.8 485.9,426.7 488,425.9 490.2,424.5 492.4,423.2 494.6,422.3 496.8,422.2 499.1,422.5 501.3,422.9 503.4,423 505.2,422.7 507,422.1 508.6,421.7 510,421.7 510.9,422.1 511.6,422.8 512.3,423.6 513,424.5 513.9,425.7 514.7,427 515.6,428.5 516.6,430 518.1,432.1 519.8,434.4 521.5,436.7 523.2,438.8 524.5,440.6 525.8,442.3 527.2,443.8 528.7,444.9 530.5,445.4 532.5,445.6 534.6,445.4 536.4,444.9 537.9,444 539.1,442.6 540.4,441.1 541.8,439.9 543.6,439 545.6,438.2 547.7,437.5 549.5,436.6 551,435.5 552.3,434.3 553.6,433.1 555,432.2 556.3,431.6 557.7,431.1 559.1,430.7 560.5,430.5 562.1,430.5 563.9,430.7 565.5,431 567.1,431.2 568.2,431.3 569.1,431.3 570.1,431.3 571.1,431.2 572.3,430.8 573.6,430.1 574.9,429.4 576.2,428.8 577.4,428.4 578.7,428 580,427.7 581.3,427.5 582.9,427.2 584.6,426.9 586.2,426.8 587.6,427.1 588.6,427.8 589.3,428.7 590.1,429.7 590.8,430.6 591.4,431.2 592,431.7 592.7,432.2 593.3,432.4 593.9,432.4 594.6,432.2 595.3,431.8 595.9,431.3 596.8,430 597.6,428.2 598.3,426.2 599,424.3 599.6,422.7 600.1,421.1 600.5,419.6 601,418 601.5,416.4 601.9,414.9 602.4,413.3 602.9,411.6 603.7,408.8 604.6,405.7 605.6,402.7 606.7,400.2 607.5,398.8 608.4,397.6 609.4,396.6 610.5,395.7 611.7,395 613,394.5 614.3,394.1 615.6,393.8 616.7,393.6 617.8,393.4 618.8,393.3 620,393.1 621.5,392.9 623.1,392.7 624.7,392.5 626.3,392.3 628,392.1 629.7,391.8 631.4,391.6 632.9,391.7 634,392 635.1,392.5 636,393 637,393.6 637.9,394.3 638.9,395 639.8,395.7 640.6,396.1 641.2,396.2 641.7,396.1 642.3,396 642.8,395.6 643.9,393.9 645,391.2 646,387.9 647.2,384.6 649,380.1 651,375.1 653,369.9 654.9,364.9 656.7,359.9 658.5,354.8 660.1,350 661.5,346.2 662.1,344.7 662.6,343.4 663.1,342.3 663.6,341.4 664,340.8 664.4,340.2 664.8,339.8 665.2,339.6 665.6,339.6 666.1,339.9 666.6,340.2 667,340.6 667.3,341 667.6,341.6 667.8,342.2 668.1,342.9 669.2,345.6 670.6,349.3 672.1,352.8 673.5,355 674.1,355.4 674.6,355.7 675.2,355.8 675.7,355.7 676.3,355 676.8,353.8 677.3,352.5 677.9,351.7 678.4,351.5 678.9,351.4 679.4,351.4 680,351.6 681,352.3 682,353.5 683,354.8 684,356 684.9,356.8 685.7,357.5 686.6,358.3 687.6,359.3 689.6,361.8 691.8,364.9 694.2,368.3 696.4,371.6 698.6,375.1 700.8,378.7 703,382.3 705.1,385.7 706.9,388.4 708.8,391 710.6,393.6 712.2,396.2 713.6,398.8 714.8,401.4 716.1,404.1 717.4,406.8 719.1,409.8 720.9,412.9 722.7,416 724.5,419.1 726.2,422.2 728,425.3 729.7,428.4 731.5,431.4 733.2,434.1 734.9,436.8 736.7,439.4 738.5,441.9 740.2,444.1 741.9,446.1 743.7,448 745.6,449.8 747.7,451.4 750,452.8 752.3,454.1 754.4,455.1 755.9,455.7 757.3,456.2 758.7,456.5 760,456.8 761.1,457 762.2,457 763.3,457.1 764.5,457 766.7,456.7 769.1,456.3 771.6,455.8 774,455.2 776.1,454.6 778.2,453.9 780.3,453.3 782.2,452.9 783.7,452.8 785.2,452.7 786.6,452.7 788.1,452.7 790,452.6 792.1,452.5 794,452.3 795.6,451.9 796.3,451.5 796.9,451 797.4,450.4 798,450 798.5,449.7 799.1,449.4 799.6,449.1 800.2,449 800.9,449 801.6,449.2 802.3,449.4 803,449.6 803.7,449.8 804.4,450 805.1,450.2 805.9,450.4 807.3,450.8 808.9,451.3 810.5,451.6 811.9,451.6 812.7,451.3 813.3,450.9 813.9,450.3 814.5,449.8 815,449.3 815.4,448.7 815.8,448.1 816.3,447.4 817,446.4 817.8,445.2 818.7,444.1 819.6,443 820.6,442.1 821.6,441.2 822.6,440.3 823.7,439.3 825.1,437.7 826.6,436 828.1,434.1 829.6,431.9 831.5,428.5 833.4,424.5 835.2,420.4 837,416.3 838.9,412.2 840.7,408 842.6,403.7 844.4,399.4 846.3,394.7 848.1,390 849.9,385.1 851.9,380 854.5,373.1 857.3,365.7 860.1,358.4 862.9,351.5 865.2,346 867.5,340.6 869.7,335.7 871.7,331.8 872.7,330.2 873.6,329 874.5,327.9 875.4,326.3 877.1,322.5 878.9,317.8 880.7,312.6 882.6,307.6 884.8,302.2 887,296.6 889.3,291.1 891.4,285.7 893.5,280.3 895.7,274.4 897.5,269.7 898.2,267.8" fill="none" stroke="#ee1111" stroke-width="3.1" stroke-linejoin="round" stroke-linecap="round"/>
<polygon points="76,588.6 124,581.9 124,587.1 76,593.8" fill="#151515"/>
<polygon points="124,582.4 172.1,575.7 172.1,579.8 124,586.5" fill="#fff" stroke="#151515" stroke-width="1.1"/>
<polygon points="172.1,575.2 220.1,568.5 220.1,573.7 172.1,580.4" fill="#151515"/>
<polygon points="220.1,569 268.1,562.3 268.1,566.4 220.1,573.1" fill="#fff" stroke="#151515" stroke-width="1.1"/>
<polygon points="268.1,561.8 316.2,555.1 316.2,560.3 268.1,567" fill="#151515"/>
<polygon points="316.2,555.6 364.2,548.9 364.2,553 316.2,559.7" fill="#fff" stroke="#151515" stroke-width="1.1"/>
<polygon points="364.2,548.4 412.2,541.7 412.2,546.9 364.2,553.6" fill="#151515"/>
<polygon points="412.2,542.2 460.3,535.5 460.3,539.6 412.2,546.3" fill="#fff" stroke="#151515" stroke-width="1.1"/>
<polygon points="460.3,535 508.3,528.2 508.3,533.4 460.3,540.2" fill="#151515"/>
<polygon points="508.3,528.8 556.3,522.1 556.3,526.2 508.3,532.9" fill="#fff" stroke="#151515" stroke-width="1.1"/>
<polygon points="556.3,521.5 604.4,514.8 604.4,520 556.3,526.7" fill="#151515"/>
<polygon points="604.4,515.4 652.4,508.7 652.4,512.8 604.4,519.5" fill="#fff" stroke="#151515" stroke-width="1.1"/>
<polygon points="652.4,508.1 700.5,501.4 700.5,506.6 652.4,513.3" fill="#151515"/>
<polygon points="700.5,502 748.5,495.3 748.5,499.4 700.5,506.1" fill="#fff" stroke="#151515" stroke-width="1.1"/>
<polygon points="748.5,494.7 796.5,488 796.5,493.2 748.5,499.9" fill="#151515"/>
<polygon points="796.5,488.6 844.6,481.9 844.6,486 796.5,492.7" fill="#fff" stroke="#151515" stroke-width="1.1"/>
<polygon points="844.6,481.3 892.6,474.6 892.6,479.8 844.6,486.5" fill="#151515"/>
<polygon points="892.6,475.2 898.2,474.4 898.2,478.5 892.6,479.3" fill="#fff" stroke="#151515" stroke-width="1.1"/>
<text transform="matrix(1,-0.1396,0,1,122.8,598.1)" font-size="10" textLength="8.9" lengthAdjust="spacingAndGlyphs" fill="#2a2a2a" stroke="#2a2a2a" stroke-width="0.15">10</text>
<text transform="matrix(1,-0.1396,0,1,170.9,591.4)" font-size="10" textLength="8.9" lengthAdjust="spacingAndGlyphs" fill="#2a2a2a" stroke="#2a2a2a" stroke-width="0.15">20</text>
<text transform="matrix(1,-0.1396,0,1,218.9,584.7)" font-size="10" textLength="8.9" lengthAdjust="spacingAndGlyphs" fill="#2a2a2a" stroke="#2a2a2a" stroke-width="0.15">30</text>
<text transform="matrix(1,-0.1396,0,1,266.9,577.9)" font-size="10" textLength="8.9" lengthAdjust="spacingAndGlyphs" fill="#2a2a2a" stroke="#2a2a2a" stroke-width="0.15">40</text>
<text transform="matrix(1,-0.1396,0,1,315,571.2)" font-size="10" textLength="8.9" lengthAdjust="spacingAndGlyphs" fill="#2a2a2a" stroke="#2a2a2a" stroke-width="0.15">50</text>
<text transform="matrix(1,-0.1396,0,1,363,564.5)" font-size="10" textLength="8.9" lengthAdjust="spacingAndGlyphs" fill="#2a2a2a" stroke="#2a2a2a" stroke-width="0.15">60</text>
<text transform="matrix(1,-0.1396,0,1,411,557.8)" font-size="10" textLength="8.9" lengthAdjust="spacingAndGlyphs" fill="#2a2a2a" stroke="#2a2a2a" stroke-width="0.15">70</text>
<text transform="matrix(1,-0.1396,0,1,459.1,551.1)" font-size="10" textLength="8.9" lengthAdjust="spacingAndGlyphs" fill="#2a2a2a" stroke="#2a2a2a" stroke-width="0.15">80</text>
<text transform="matrix(1,-0.1396,0,1,507.1,544.4)" font-size="10" textLength="8.9" lengthAdjust="spacingAndGlyphs" fill="#2a2a2a" stroke="#2a2a2a" stroke-width="0.15">90</text>
<text transform="matrix(1,-0.1396,0,1,555.1,537.7)" font-size="10" textLength="13.3" lengthAdjust="spacingAndGlyphs" fill="#2a2a2a" stroke="#2a2a2a" stroke-width="0.15">100</text>
<text transform="matrix(1,-0.1396,0,1,603.2,531)" font-size="10" textLength="12.8" lengthAdjust="spacingAndGlyphs" fill="#2a2a2a" stroke="#2a2a2a" stroke-width="0.15">110</text>
<text transform="matrix(1,-0.1396,0,1,651.2,524.3)" font-size="10" textLength="13.3" lengthAdjust="spacingAndGlyphs" fill="#2a2a2a" stroke="#2a2a2a" stroke-width="0.15">120</text>
<text transform="matrix(1,-0.1396,0,1,699.3,517.6)" font-size="10" textLength="13.3" lengthAdjust="spacingAndGlyphs" fill="#2a2a2a" stroke="#2a2a2a" stroke-width="0.15">130</text>
<text transform="matrix(1,-0.1396,0,1,747.3,510.9)" font-size="10" textLength="13.3" lengthAdjust="spacingAndGlyphs" fill="#2a2a2a" stroke="#2a2a2a" stroke-width="0.15">140</text>
<text transform="matrix(1,-0.1396,0,1,795.3,504.2)" font-size="10" textLength="13.3" lengthAdjust="spacingAndGlyphs" fill="#2a2a2a" stroke="#2a2a2a" stroke-width="0.15">150</text>
<text transform="matrix(1,-0.1396,0,1,843.4,497.5)" font-size="10" textLength="13.3" lengthAdjust="spacingAndGlyphs" fill="#2a2a2a" stroke="#2a2a2a" stroke-width="0.15">160</text>
<text transform="matrix(1,-0.1396,0,1,885.1,491.7)" font-size="10" textLength="13.3" lengthAdjust="spacingAndGlyphs" fill="#2a2a2a" stroke="#2a2a2a" stroke-width="0.15">170</text>
<text transform="matrix(0,-1,1,-0.1396,92.7,532.4)" font-size="14" textLength="47.7" lengthAdjust="spacingAndGlyphs" fill="#111" stroke="#111" stroke-width="0.5">374 - Mas</text>
<text transform="matrix(0,-1,1,-0.1396,129.5,516.5)" font-size="14" textLength="72.5" lengthAdjust="spacingAndGlyphs" fill="#111" stroke="#111" stroke-width="0.5">440 - La Stanga</text>
<text transform="matrix(0,-1,1,-0.1396,188.1,487)" font-size="14" textLength="62" lengthAdjust="spacingAndGlyphs" fill="#111" stroke="#111" stroke-width="0.5">611 - Agordo</text>
<text transform="matrix(0,-1,1,-0.1396,213,472.7)" font-size="14" textLength="68.7" lengthAdjust="spacingAndGlyphs" fill="#111" stroke="#111" stroke-width="0.5">683 - Listolade</text>
<text transform="matrix(0,-1,1,-0.1396,236.3,457.5)" font-size="14" textLength="126.5" lengthAdjust="spacingAndGlyphs" fill="#111" stroke="#111" stroke-width="0.5">774 - Cencenighe Agordino</text>
<text transform="matrix(0,-1,1,-0.1396,258.5,429)" font-size="14" textLength="103" lengthAdjust="spacingAndGlyphs" fill="#111" stroke="#111" stroke-width="0.5">971 - Canale d'Agordo</text>
<text transform="matrix(0,-1,1,-0.1396,278.1,401.4)" font-size="14" textLength="68" lengthAdjust="spacingAndGlyphs" fill="#111" stroke="#111" stroke-width="0.5">1148 - Falcade</text>
<text transform="matrix(0,-1,1,-0.1396,290.1,378.3)" font-size="14" textLength="89" lengthAdjust="spacingAndGlyphs" fill="#111" stroke="#111" stroke-width="0.5">1302 - Falcade Alto</text>
<text transform="matrix(0,-1,1,-0.1396,324.6,297)" font-size="16" font-weight="bold" textLength="161" lengthAdjust="spacingAndGlyphs" fill="#111" stroke="#111" stroke-width="0.6">1918 - PASSO SAN PELLEGRINO</text>
<text transform="matrix(0,-1,1,-0.1396,385.8,358.3)" font-size="14" textLength="64.4" lengthAdjust="spacingAndGlyphs" fill="#111" stroke="#111" stroke-width="0.5">1165 - Moena</text>
<text transform="matrix(0,-1,1,-0.1396,401.9,384.7)" font-size="14" textLength="59.2" lengthAdjust="spacingAndGlyphs" fill="#111" stroke="#111" stroke-width="0.5">1124 - Forno</text>
<text transform="matrix(0,-1,1,-0.1396,427.9,400)" font-size="14" textLength="73.3" lengthAdjust="spacingAndGlyphs" fill="#111" stroke="#111" stroke-width="0.5">1008 - Predazzo</text>
<text transform="matrix(0,-1,1,-0.1396,466.5,400)" font-size="14" textLength="58" lengthAdjust="spacingAndGlyphs" fill="#111" stroke="#111" stroke-width="0.5">974 - Tesero</text>
<text transform="matrix(0,-1,1,-0.1396,491.4,395.5)" font-size="16" font-weight="bold" textLength="91.3" lengthAdjust="spacingAndGlyphs" fill="#111" stroke="#111" stroke-width="0.6">1010 - CAVALESE</text>
<text transform="matrix(0,-1,1,-0.1396,518.8,401.4)" font-size="16" font-weight="bold" textLength="128.6" lengthAdjust="spacingAndGlyphs" fill="#111" stroke="#111" stroke-width="0.6">808 - MOLINA DI FIEMME</text>
<text transform="matrix(0,-1,1,-0.1396,552.1,400)" font-size="14" textLength="62.2" lengthAdjust="spacingAndGlyphs" fill="#111" stroke="#111" stroke-width="0.5">853 - Casatta</text>
<text transform="matrix(0,-1,1,-0.1396,578.5,395.5)" font-size="14" textLength="54" lengthAdjust="spacingAndGlyphs" fill="#111" stroke="#111" stroke-width="0.5">824 - Sover</text>
<text transform="matrix(0,-1,1,-0.1396,609.9,357.6)" font-size="14" textLength="70.8" lengthAdjust="spacingAndGlyphs" fill="#111" stroke="#111" stroke-width="0.5">1104 - Brusago</text>
<text transform="matrix(0,-1,1,-0.1396,628.8,359.5)" font-size="14" textLength="66" lengthAdjust="spacingAndGlyphs" fill="#111" stroke="#111" stroke-width="0.5">1046 - Bedollo</text>
<text transform="matrix(0,-1,1,-0.1396,650.9,310.4)" font-size="16" font-weight="bold" textLength="144" lengthAdjust="spacingAndGlyphs" fill="#111" stroke="#111" stroke-width="0.6">1457 - PASSO DEL REDEBUS</text>
<text transform="matrix(0,-1,1,-0.1396,667.4,320.2)" font-size="14" textLength="106.6" lengthAdjust="spacingAndGlyphs" fill="#111" stroke="#111" stroke-width="0.5">1350 - Palu' del Fersina</text>
<text transform="matrix(0,-1,1,-0.1396,725.4,390.3)" font-size="14" textLength="63.5" lengthAdjust="spacingAndGlyphs" fill="#111" stroke="#111" stroke-width="0.5">585 - Canezza</text>
<text transform="matrix(0,-1,1,-0.1396,741.4,417.8)" font-size="14" textLength="112.8" lengthAdjust="spacingAndGlyphs" fill="#111" stroke="#111" stroke-width="0.5">473 - Pergine Valsugana</text>
<text transform="matrix(0,-1,1,-0.1396,772.1,422.8)" font-size="14" textLength="118.4" lengthAdjust="spacingAndGlyphs" fill="#111" stroke="#111" stroke-width="0.5">463 - Calceranica al Lago</text>
<text transform="matrix(0,-1,1,-0.1396,786.8,418.4)" font-size="14" textLength="78" lengthAdjust="spacingAndGlyphs" fill="#111" stroke="#111" stroke-width="0.5">471 - Caldonazzo</text>
<text transform="matrix(0,-1,1,-0.1396,807.1,414.2)" font-size="14" textLength="88" lengthAdjust="spacingAndGlyphs" fill="#111" stroke="#111" stroke-width="0.5">485 - Levico Terme</text>
<text transform="matrix(0,-1,1,-0.1396,860.1,285.6)" font-size="14" textLength="99.4" lengthAdjust="spacingAndGlyphs" fill="#111" stroke="#111" stroke-width="0.5">1383 - Vetriolo Terme</text>
<text transform="matrix(0,-1,1,-0.1396,77.7,612.5)" font-size="14.5" font-weight="bold" textLength="15" lengthAdjust="spacingAndGlyphs" text-anchor="end" fill="#111" stroke="#111" stroke-width="0.45">0.0</text>
<text transform="matrix(0,-1,1,-0.1396,109.4,608)" font-size="14.5" textLength="15" lengthAdjust="spacingAndGlyphs" text-anchor="end" fill="#111" stroke="#111" stroke-width="0.5">6.4</text>
<text transform="matrix(0,-1,1,-0.1396,146,602.9)" font-size="14.5" textLength="21" lengthAdjust="spacingAndGlyphs" text-anchor="end" fill="#111" stroke="#111" stroke-width="0.5">14.0</text>
<text transform="matrix(0,-1,1,-0.1396,204.7,594.7)" font-size="14.5" textLength="21" lengthAdjust="spacingAndGlyphs" text-anchor="end" fill="#111" stroke="#111" stroke-width="0.5">26.4</text>
<text transform="matrix(0,-1,1,-0.1396,228.5,591.4)" font-size="14.5" textLength="21" lengthAdjust="spacingAndGlyphs" text-anchor="end" fill="#111" stroke="#111" stroke-width="0.5">31.3</text>
<text transform="matrix(0,-1,1,-0.1396,253,588)" font-size="14.5" textLength="21" lengthAdjust="spacingAndGlyphs" text-anchor="end" fill="#111" stroke="#111" stroke-width="0.5">36.3</text>
<text transform="matrix(0,-1,1,-0.1396,276,584.8)" font-size="14.5" textLength="21" lengthAdjust="spacingAndGlyphs" text-anchor="end" fill="#111" stroke="#111" stroke-width="0.5">41.1</text>
<text transform="matrix(0,-1,1,-0.1396,294.2,582.2)" font-size="14.5" textLength="21" lengthAdjust="spacingAndGlyphs" text-anchor="end" fill="#111" stroke="#111" stroke-width="0.5">44.9</text>
<text transform="matrix(0,-1,1,-0.1396,306.3,580.5)" font-size="14.5" textLength="21" lengthAdjust="spacingAndGlyphs" text-anchor="end" fill="#111" stroke="#111" stroke-width="0.5">47.3</text>
<text transform="matrix(0,-1,1,-0.1396,340.7,575.7)" font-size="14.5" font-weight="bold" textLength="21" lengthAdjust="spacingAndGlyphs" text-anchor="end" fill="#111" stroke="#111" stroke-width="0.45">54.5</text>
<text transform="matrix(0,-1,1,-0.1396,401.2,567.3)" font-size="14.5" textLength="21" lengthAdjust="spacingAndGlyphs" text-anchor="end" fill="#111" stroke="#111" stroke-width="0.5">66.4</text>
<text transform="matrix(0,-1,1,-0.1396,420.2,564.6)" font-size="14.5" textLength="21" lengthAdjust="spacingAndGlyphs" text-anchor="end" fill="#111" stroke="#111" stroke-width="0.5">70.3</text>
<text transform="matrix(0,-1,1,-0.1396,444,561.3)" font-size="14.5" textLength="21" lengthAdjust="spacingAndGlyphs" text-anchor="end" fill="#111" stroke="#111" stroke-width="0.5">75.7</text>
<text transform="matrix(0,-1,1,-0.1396,484.2,555.7)" font-size="14.5" textLength="21" lengthAdjust="spacingAndGlyphs" text-anchor="end" fill="#111" stroke="#111" stroke-width="0.5">83.9</text>
<text transform="matrix(0,-1,1,-0.1396,508.2,552.4)" font-size="14.5" font-weight="bold" textLength="21" lengthAdjust="spacingAndGlyphs" text-anchor="end" fill="#111" stroke="#111" stroke-width="0.45">88.9</text>
<text transform="matrix(0,-1,1,-0.1396,533,548.9)" font-size="14.5" font-weight="bold" textLength="21" lengthAdjust="spacingAndGlyphs" text-anchor="end" fill="#111" stroke="#111" stroke-width="0.45">94.2</text>
<text transform="matrix(0,-1,1,-0.1396,569.4,543.8)" font-size="14.5" textLength="27" lengthAdjust="spacingAndGlyphs" text-anchor="end" fill="#111" stroke="#111" stroke-width="0.5">102.1</text>
<text transform="matrix(0,-1,1,-0.1396,596.4,540.1)" font-size="14.5" textLength="27" lengthAdjust="spacingAndGlyphs" text-anchor="end" fill="#111" stroke="#111" stroke-width="0.5">108.0</text>
<text transform="matrix(0,-1,1,-0.1396,626,535.9)" font-size="14.5" textLength="26.2" lengthAdjust="spacingAndGlyphs" text-anchor="end" fill="#111" stroke="#111" stroke-width="0.5">114.5</text>
<text transform="matrix(0,-1,1,-0.1396,645,533.3)" font-size="14.5" textLength="26.2" lengthAdjust="spacingAndGlyphs" text-anchor="end" fill="#111" stroke="#111" stroke-width="0.5">118.0</text>
<text transform="matrix(0,-1,1,-0.1396,666,530.3)" font-size="14.5" font-weight="bold" textLength="27" lengthAdjust="spacingAndGlyphs" text-anchor="end" fill="#111" stroke="#111" stroke-width="0.45">122.8</text>
<text transform="matrix(0,-1,1,-0.1396,684.6,527.7)" font-size="14.5" textLength="27" lengthAdjust="spacingAndGlyphs" text-anchor="end" fill="#111" stroke="#111" stroke-width="0.5">125.3</text>
<text transform="matrix(0,-1,1,-0.1396,741.1,519.9)" font-size="14.5" textLength="27" lengthAdjust="spacingAndGlyphs" text-anchor="end" fill="#111" stroke="#111" stroke-width="0.5">137.8</text>
<text transform="matrix(0,-1,1,-0.1396,759.1,517.3)" font-size="14.5" textLength="27" lengthAdjust="spacingAndGlyphs" text-anchor="end" fill="#111" stroke="#111" stroke-width="0.5">141.3</text>
<text transform="matrix(0,-1,1,-0.1396,788,513.3)" font-size="14.5" textLength="27" lengthAdjust="spacingAndGlyphs" text-anchor="end" fill="#111" stroke="#111" stroke-width="0.5">148.2</text>
<text transform="matrix(0,-1,1,-0.1396,802.2,511.3)" font-size="14.5" textLength="27" lengthAdjust="spacingAndGlyphs" text-anchor="end" fill="#111" stroke="#111" stroke-width="0.5">150.5</text>
<text transform="matrix(0,-1,1,-0.1396,821.7,508.6)" font-size="14.5" textLength="27" lengthAdjust="spacingAndGlyphs" text-anchor="end" fill="#111" stroke="#111" stroke-width="0.5">154.7</text>
<text transform="matrix(0,-1,1,-0.1396,877.8,500.8)" font-size="14.5" textLength="27" lengthAdjust="spacingAndGlyphs" text-anchor="end" fill="#111" stroke="#111" stroke-width="0.5">166.4</text>
<text transform="matrix(0,-1,1,-0.1396,900.3,497.6)" font-size="14.5" font-weight="bold" textLength="27" lengthAdjust="spacingAndGlyphs" text-anchor="end" fill="#111" stroke="#111" stroke-width="0.45">171.0</text>
<g stroke="#949494" stroke-width="1.5" fill="none">
<path d="M79.5 664.3L325 629.8"/>
<path d="M334.5 628.5L891.5 550.2"/>
<path d="M75.9 657.5V671.7" stroke-width="1.4"/>
<path d="M327.6 622.5V638.4" stroke-width="1.4"/>
<path d="M898 541.6V556.8" stroke-width="1.4"/>
</g>
<circle cx="79.5" cy="664.3" r="1.4" fill="#949494"/>
<circle cx="325" cy="629.8" r="1.4" fill="#949494"/>
<circle cx="334.5" cy="628.5" r="1.4" fill="#949494"/>
<circle cx="891.5" cy="550.2" r="1.4" fill="#949494"/>
<text transform="matrix(1,-0.1396,0,1,192,645.2)" font-size="13" font-weight="bold" textLength="21" lengthAdjust="spacingAndGlyphs" fill="#fff" stroke="#555" stroke-width="1.2" paint-order="stroke">BL</text>
<text transform="matrix(1,-0.1396,0,1,608.5,585.4)" font-size="13" font-weight="bold" textLength="21" lengthAdjust="spacingAndGlyphs" fill="#fff" stroke="#555" stroke-width="1.2" paint-order="stroke">TN</text>
<text transform="matrix(0,-1,1,-0.1396,910.2,475.7)" font-size="10" textLength="27" lengthAdjust="spacingAndGlyphs" fill="#111" stroke="#111" stroke-width="0.35">SDS</text>
<text transform="matrix(1,-0.1396,0,1,84.1,146.8)" font-size="23" font-weight="bold" textLength="110" lengthAdjust="spacingAndGlyphs" fill="#111" stroke="#111" stroke-width="0.7">453 - BELLUNO</text>
<text transform="matrix(1,-0.1396,0,1,684.6,61.2)" font-size="22" font-weight="bold" textLength="173.5" lengthAdjust="spacingAndGlyphs" fill="#111" stroke="#111" stroke-width="0.7">1760 - RIF. PANAROTTA</text>
<text transform="matrix(1,-0.1396,0,1,773.3,70)" font-size="19.5" font-weight="bold" textLength="84.8" lengthAdjust="spacingAndGlyphs" fill="#111" stroke="#111" stroke-width="0.2">(Valsugana)</text>
<g transform="matrix(1,-0.1396,0,1,42.9,135.9)">
<rect x="0" y="0" width="35" height="33.4" rx="6.5" fill="url(#ggreen)" stroke="#16240a" stroke-width="1.7"/>
<g transform="translate(0,-1.6)">
<path d="M13.6 7.4L14.4 23.2" stroke="#14631d" stroke-width="1.2" fill="none"/>
<circle cx="13.5" cy="6.9" r="1.05" fill="#14631d"/>
<path d="M9.3 14.6Q11.6 14.4 13.6 12.2L14 19.4Q12 21 10.2 20.8Z" fill="#1f8a2c"/>
<path d="M14.4 12.4Q18.5 15.2 22.2 11.6Q24.8 9.4 27.6 10.4L28 19.4Q25 18.6 22.9 20.6Q19 24 14.8 21.2Z" fill="#fff" stroke="#1f8a2c" stroke-width="0.5"/>
<rect x="14.7" y="13.2" width="3.1" height="2.5" fill="#1f8a2c"/>
<rect x="20.9" y="12.2" width="3.1" height="2.5" fill="#1f8a2c"/>
<rect x="17.8" y="15.6" width="3.1" height="2.5" fill="#1f8a2c"/>
<rect x="24.2" y="12.8" width="3.1" height="2.5" fill="#1f8a2c"/>
<rect x="14.9" y="18.2" width="3.1" height="2.5" fill="#1f8a2c"/>
<rect x="21" y="17.6" width="3.1" height="2.5" fill="#1f8a2c"/>
<rect x="24.4" y="15.8" width="3.1" height="2.5" fill="#1f8a2c"/>
<rect x="18" y="20" width="3.1" height="2.5" fill="#1f8a2c"/>
</g>
<text x="2.6" y="30.2" font-size="7.8" font-weight="bold" textLength="30" lengthAdjust="spacingAndGlyphs" fill="#12300c" stroke="#12300c" stroke-width="0.25">PARTENZA</text>
</g>
<g transform="matrix(1,-0.1396,0,1,469.2,85.7)">
<rect x="0" y="0" width="34" height="31.5" rx="6.5" fill="url(#gpink)" stroke="#1a1a1a" stroke-width="1.6"/>
<text transform="translate(2.2,22.6) skewX(-9)" font-size="20" font-weight="bold" textLength="26.2" lengthAdjust="spacingAndGlyphs" fill="#fff" stroke="#e2001a" stroke-width="3" paint-order="stroke" stroke-linejoin="round">TV</text>
</g>
<g transform="matrix(1,-0.1396,0,1,525,93.7)">
<circle cx="0" cy="0" r="16.3" fill="url(#gredc)" stroke="#1a1a1a" stroke-width="1.6"/>
<text x="0.4" y="7.2" font-size="21" font-weight="bold" text-anchor="middle" fill="#fff" stroke="#5a5a5a" stroke-width="2.2" paint-order="stroke" stroke-linejoin="round">R</text>
</g>
<polygon points="326.2,103.5 366,97.6 345.7,134.2" fill="url(#gtri_r)" stroke="#1a1a1a" stroke-width="1.1" stroke-linejoin="miter"/>
<text transform="matrix(1,-0.1396,0,1,346.5,113.1)" font-size="12.5" font-weight="bold" text-anchor="middle" textLength="21.5" lengthAdjust="spacingAndGlyphs" fill="#ededed" stroke="#2a2a2a" stroke-width="1.5" paint-order="stroke" stroke-linejoin="round">GPM</text>
<text transform="matrix(1,-0.1396,0,1,346.4,123.9)" font-size="12.5" font-weight="bold" text-anchor="middle" textLength="5.2" lengthAdjust="spacingAndGlyphs" fill="#111" stroke="#111" stroke-width="0.3">1</text>
<polygon points="625,74.3 664.8,68.5 644.9,105.4" fill="url(#gtri_y)" stroke="#1a1a1a" stroke-width="1.1" stroke-linejoin="miter"/>
<text transform="matrix(1,-0.1396,0,1,645.3,84)" font-size="12.5" font-weight="bold" text-anchor="middle" textLength="21.5" lengthAdjust="spacingAndGlyphs" fill="#ededed" stroke="#2a2a2a" stroke-width="1.5" paint-order="stroke" stroke-linejoin="round">GPM</text>
<text transform="matrix(1,-0.1396,0,1,645.2,94.8)" font-size="12.5" font-weight="bold" text-anchor="middle" textLength="5.2" lengthAdjust="spacingAndGlyphs" fill="#111" stroke="#111" stroke-width="0.3">2</text>
<polygon points="862.2,57.6 901.5,51.9 882.2,89.4" fill="url(#gtri_r)" stroke="#1a1a1a" stroke-width="1.1" stroke-linejoin="miter"/>
<text transform="matrix(1,-0.1396,0,1,882.2,67.3)" font-size="12.5" font-weight="bold" text-anchor="middle" textLength="21.5" lengthAdjust="spacingAndGlyphs" fill="#ededed" stroke="#2a2a2a" stroke-width="1.5" paint-order="stroke" stroke-linejoin="round">GPM</text>
<text transform="matrix(1,-0.1396,0,1,882.1,78.2)" font-size="12.5" font-weight="bold" text-anchor="middle" textLength="5.2" lengthAdjust="spacingAndGlyphs" fill="#111" stroke="#111" stroke-width="0.3">1</text>
<g transform="matrix(1,-0.1396,0,1,863.5,17.7)">
<rect x="0" y="0" width="35.4" height="31.6" rx="6.5" fill="url(#garr)" stroke="#1a1a1a" stroke-width="1.7"/>
<g transform="translate(0,0.8)">
<path d="M3.6 2.6Q17 4.6 31 2.3L32.6 12.1Q17 11.2 2.4 12.5Z" fill="#e2001a"/>
<text x="4.6" y="10.6" font-size="7.6" font-weight="bold" font-style="italic" textLength="25.4" lengthAdjust="spacingAndGlyphs" fill="#fff" stroke="#fff" stroke-width="0.2">ARRIVO</text>
<path d="M11.6 14.2V21.6Q11.8 24.6 15 24.7H20Q23.1 24.6 23.3 21.6V14.2" fill="none" stroke="#e2001a" stroke-width="1.7"/>
<ellipse cx="17.4" cy="20" rx="3.3" ry="2.8" fill="#e2001a"/>
<path d="M10.3 28.2Q10.6 25.4 12.4 24.2H22.5Q24.3 25.4 24.6 28.2Z" fill="#e2001a"/>
</g>
</g>
</svg></body></html>
